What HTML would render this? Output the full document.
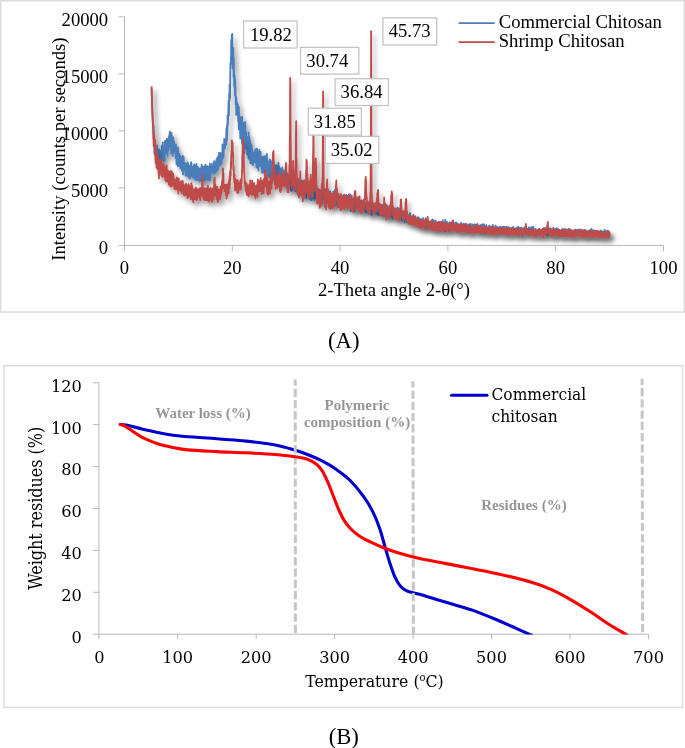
<!DOCTYPE html>
<html lang="en">
<head>
<meta charset="utf-8">
<title>XRD and TGA of chitosan</title>
<style>
html,body{margin:0;padding:0;background:#fff;}
body{width:685px;height:748px;overflow:hidden;}
svg{display:block;}
.t{font-family:"Liberation Serif",serif;fill:#000;}
.c{font-family:"DejaVu Serif Condensed","DejaVu Serif",serif;font-stretch:condensed;fill:#000;}
.g{font-family:"Liberation Serif",serif;font-weight:bold;fill:#969696;}
</style>
</head>
<body>
<svg width="685" height="748" viewBox="0 0 685 748">
<defs>
<filter id="sh" x="-5%" y="-10%" width="110%" height="125%">
<feGaussianBlur in="SourceAlpha" stdDeviation="2.4"/>
<feOffset dx="3.4" dy="3.8" result="b"/>
<feComponentTransfer><feFuncA type="linear" slope="0.38"/></feComponentTransfer>
<feMerge><feMergeNode/><feMergeNode in="SourceGraphic"/></feMerge>
</filter>
<clipPath id="cp"><rect x="99" y="370" width="560" height="264.6"/></clipPath>
</defs>
<rect width="685" height="748" fill="#fff"/>

<!-- ===== chart A frame ===== -->
<rect x="0.75" y="0.75" width="683.5" height="311.3" fill="#fff" stroke="#dcdcdc" stroke-width="1.5"/>

<!-- axes A -->
<g stroke="#b0b0b0" stroke-width="0.9" fill="none">
<path d="M124.5 16.8V251.3M118.6 245.4H663.5"/>
<path d="M118.6 16.8H124.5M118.6 73.8H124.5M118.6 130.8H124.5M118.6 187.8H124.5"/>
<path d="M232.3 245.4V251.3M340.1 245.4V251.3M447.9 245.4V251.3M555.7 245.4V251.3M663.5 245.4V251.3"/>
</g>

<!-- y tick labels A -->
<g class="t" font-size="18.67" text-anchor="end">
<text x="108.2" y="25.6">20000</text>
<text x="108.2" y="82.8">15000</text>
<text x="108.2" y="139.8">10000</text>
<text x="108.2" y="196.9">5000</text>
<text x="108.2" y="254.3">0</text>
</g>
<!-- x tick labels A -->
<g class="t" font-size="18.67" text-anchor="middle">
<text x="124.5" y="273.8">0</text>
<text x="232.3" y="273.8">20</text>
<text x="340.1" y="273.8">40</text>
<text x="447.9" y="273.8">60</text>
<text x="555.7" y="273.8">80</text>
<text x="663.5" y="273.8">100</text>
</g>
<text class="t" font-size="18.67" text-anchor="middle" x="394" y="296">2-Theta angle 2-θ(°)</text>
<text class="t" font-size="18.67" text-anchor="middle" transform="translate(65.4 149.1) rotate(-90)">Intensity (counts per seconds)</text>

<!-- data A -->
<polyline fill="none" stroke="#4a7ebb" stroke-width="1.8" stroke-linejoin="round" filter="url(#sh)" points="151.4,89.2 151.6,88.8 151.7,92.8 151.9,100.2 152.0,103.8 152.1,103.7 152.3,111.2 152.4,111.8 152.5,112.8 152.7,118.3 152.8,121.8 152.9,123.7 153.1,126.8 153.2,128.6 153.3,124.9 153.5,133.8 153.6,125.7 153.7,129.1 153.9,138.3 154.0,131.5 154.1,145.3 154.3,143.2 154.4,144.1 154.5,153.0 154.7,152.6 154.8,146.7 155.0,151.2 155.1,141.2 155.2,147.5 155.4,149.5 155.5,149.1 155.6,154.2 155.8,160.0 155.9,157.9 156.0,153.3 156.2,159.8 156.3,156.7 156.4,164.2 156.6,150.2 156.7,163.1 156.8,156.5 157.0,145.4 157.1,156.5 157.2,149.5 157.4,154.1 157.5,149.4 157.6,161.5 157.8,155.0 157.9,156.1 158.1,149.5 158.2,160.0 158.3,152.7 158.5,164.2 158.6,156.3 158.7,158.1 158.9,158.8 159.0,150.4 159.1,155.2 159.3,149.6 159.4,152.6 159.5,154.0 159.7,152.6 159.8,152.1 159.9,158.7 160.1,160.2 160.2,158.4 160.3,159.5 160.5,158.8 160.6,151.3 160.7,161.3 160.9,155.2 161.0,154.2 161.2,151.0 161.3,151.3 161.4,161.1 161.6,152.1 161.7,147.3 161.8,145.7 162.0,152.8 162.1,157.1 162.2,158.9 162.4,146.1 162.5,152.8 162.6,157.2 162.8,142.3 162.9,149.3 163.0,150.7 163.2,155.3 163.3,154.9 163.4,152.8 163.6,161.4 163.7,147.1 163.8,151.8 164.0,151.1 164.1,149.5 164.3,151.5 164.4,157.4 164.5,150.8 164.7,160.1 164.8,157.4 164.9,141.0 165.1,143.4 165.2,152.4 165.3,152.0 165.5,140.6 165.6,147.9 165.7,147.6 165.9,149.8 166.0,147.2 166.1,147.7 166.3,140.5 166.4,140.4 166.5,153.5 166.7,140.3 166.8,151.5 166.9,138.7 167.1,145.3 167.2,153.8 167.4,142.8 167.5,140.6 167.6,156.1 167.8,142.5 167.9,139.7 168.0,144.2 168.2,141.2 168.3,149.2 168.4,149.8 168.6,145.1 168.7,150.6 168.8,146.5 169.0,135.8 169.1,138.8 169.2,144.7 169.4,146.8 169.5,133.6 169.6,142.5 169.8,131.7 169.9,140.8 170.0,137.8 170.2,132.2 170.3,137.9 170.4,141.5 170.6,141.2 170.7,134.2 170.9,143.6 171.0,138.0 171.1,153.5 171.3,142.5 171.4,140.2 171.5,132.9 171.7,149.6 171.8,135.2 171.9,141.0 172.1,138.5 172.2,140.1 172.3,137.2 172.5,147.8 172.6,150.2 172.7,151.2 172.9,155.9 173.0,148.4 173.1,137.6 173.3,137.2 173.4,151.0 173.5,145.1 173.7,145.4 173.8,145.4 174.0,142.4 174.1,149.3 174.2,141.5 174.4,148.0 174.5,145.6 174.6,146.6 174.8,151.9 174.9,152.5 175.0,151.6 175.2,146.1 175.3,149.7 175.4,146.9 175.6,158.1 175.7,149.0 175.8,146.0 176.0,144.4 176.1,153.3 176.2,146.5 176.4,162.2 176.5,159.1 176.6,164.4 176.8,158.4 176.9,154.0 177.1,159.3 177.2,152.6 177.3,162.7 177.5,156.3 177.6,161.0 177.7,152.3 177.9,166.0 178.0,158.9 178.1,147.3 178.3,154.3 178.4,155.7 178.5,157.2 178.7,159.5 178.8,161.0 178.9,156.1 179.1,164.6 179.2,156.1 179.3,154.5 179.5,153.9 179.6,166.6 179.7,164.3 179.9,162.8 180.0,165.2 180.2,158.3 180.3,158.4 180.4,168.2 180.6,156.2 180.7,156.6 180.8,167.9 181.0,158.6 181.1,157.5 181.2,165.5 181.4,161.4 181.5,160.2 181.6,163.0 181.8,170.4 181.9,160.4 182.0,163.3 182.2,161.0 182.3,159.7 182.4,164.1 182.6,160.2 182.7,155.7 182.8,158.6 183.0,170.2 183.1,174.5 183.3,163.6 183.4,166.4 183.5,163.5 183.7,157.1 183.8,165.8 183.9,169.3 184.1,166.7 184.2,163.2 184.3,170.6 184.5,167.0 184.6,170.8 184.7,163.6 184.9,163.0 185.0,169.0 185.1,170.5 185.3,164.3 185.4,175.3 185.5,171.3 185.7,165.1 185.8,168.6 185.9,175.9 186.1,163.8 186.2,164.0 186.4,171.1 186.5,173.0 186.6,163.9 186.8,174.3 186.9,167.6 187.0,173.6 187.2,175.6 187.3,163.4 187.4,171.3 187.6,170.8 187.7,162.4 187.8,166.9 188.0,176.3 188.1,169.0 188.2,164.1 188.4,171.7 188.5,169.1 188.6,176.5 188.8,167.6 188.9,165.7 189.0,167.7 189.2,167.2 189.3,171.6 189.4,178.5 189.6,171.0 189.7,168.0 189.9,173.1 190.0,178.5 190.1,170.5 190.3,170.0 190.4,165.6 190.5,174.5 190.7,176.5 190.8,166.2 190.9,170.4 191.1,164.1 191.2,162.1 191.3,162.6 191.5,168.7 191.6,169.3 191.7,170.8 191.9,169.7 192.0,176.5 192.1,167.1 192.3,170.2 192.4,166.9 192.5,172.4 192.7,172.6 192.8,174.2 193.0,177.6 193.1,168.2 193.2,169.5 193.4,171.5 193.5,169.6 193.6,167.9 193.8,172.6 193.9,172.4 194.0,164.5 194.2,174.3 194.3,177.3 194.4,169.1 194.6,167.8 194.7,178.4 194.8,168.1 195.0,165.1 195.1,167.6 195.2,179.6 195.4,175.7 195.5,167.2 195.6,174.3 195.8,177.2 195.9,173.3 196.1,171.7 196.2,166.1 196.3,180.0 196.5,164.0 196.6,177.5 196.7,166.3 196.9,179.9 197.0,176.3 197.1,178.8 197.3,174.0 197.4,171.9 197.5,166.8 197.7,172.5 197.8,180.0 197.9,167.1 198.1,168.3 198.2,168.9 198.3,177.5 198.5,179.6 198.6,177.0 198.7,178.8 198.9,175.4 199.0,172.0 199.2,179.8 199.3,177.1 199.4,170.6 199.6,174.9 199.7,181.5 199.8,168.5 200.0,175.8 200.1,175.4 200.2,176.8 200.4,171.7 200.5,170.9 200.6,172.4 200.8,176.7 200.9,170.7 201.0,168.2 201.2,176.6 201.3,180.4 201.4,181.3 201.6,164.7 201.7,169.1 201.8,175.5 202.0,166.5 202.1,176.2 202.3,170.4 202.4,172.4 202.5,166.3 202.7,181.9 202.8,177.6 202.9,171.0 203.1,177.0 203.2,174.8 203.3,169.8 203.5,167.5 203.6,169.4 203.7,166.9 203.9,169.7 204.0,170.6 204.1,170.4 204.3,169.0 204.4,172.0 204.5,175.3 204.7,180.7 204.8,167.6 204.9,180.0 205.1,165.7 205.2,174.8 205.4,176.5 205.5,164.7 205.6,179.6 205.8,172.8 205.9,179.8 206.0,170.6 206.2,171.3 206.3,167.8 206.4,178.1 206.6,167.5 206.7,171.4 206.8,172.6 207.0,166.3 207.1,175.0 207.2,169.6 207.4,172.8 207.5,166.4 207.6,173.1 207.8,173.8 207.9,179.9 208.0,170.6 208.2,169.4 208.3,177.9 208.4,166.9 208.6,179.9 208.7,167.5 208.9,177.7 209.0,173.0 209.1,170.5 209.3,171.0 209.4,168.1 209.5,180.4 209.7,167.5 209.8,168.7 209.9,163.6 210.1,180.3 210.2,172.8 210.3,170.3 210.5,171.2 210.6,179.3 210.7,168.8 210.9,174.5 211.0,174.5 211.1,166.1 211.3,172.5 211.4,170.7 211.5,171.8 211.7,168.4 211.8,169.4 212.0,163.7 212.1,171.0 212.2,168.5 212.4,166.3 212.5,165.7 212.6,168.3 212.8,171.9 212.9,169.8 213.0,169.6 213.2,166.5 213.3,173.9 213.4,168.1 213.6,166.3 213.7,167.9 213.8,170.2 214.0,161.2 214.1,168.0 214.2,164.1 214.4,164.1 214.5,171.1 214.6,161.3 214.8,173.7 214.9,166.4 215.1,162.6 215.2,170.0 215.3,163.2 215.5,164.3 215.6,163.8 215.7,165.3 215.9,166.4 216.0,170.0 216.1,172.4 216.3,167.0 216.4,167.9 216.5,159.1 216.7,164.4 216.8,164.4 216.9,167.8 217.1,167.5 217.2,157.8 217.3,157.8 217.5,166.6 217.6,170.4 217.7,159.9 217.9,166.6 218.0,160.6 218.2,168.6 218.3,155.9 218.4,167.6 218.6,162.7 218.7,166.4 218.8,164.9 219.0,157.7 219.1,153.0 219.2,162.0 219.4,155.9 219.5,163.1 219.6,163.2 219.8,163.8 219.9,165.6 220.0,161.1 220.2,152.9 220.3,153.5 220.4,165.3 220.6,155.8 220.7,155.4 220.8,160.1 221.0,164.2 221.1,156.9 221.3,159.9 221.4,157.2 221.5,162.7 221.7,156.6 221.8,163.6 221.9,159.1 222.1,152.7 222.2,153.4 222.3,158.9 222.5,144.3 222.6,154.5 222.7,157.5 222.9,154.0 223.0,158.6 223.1,153.2 223.3,146.1 223.4,150.6 223.5,157.2 223.7,156.3 223.8,151.2 223.9,145.4 224.1,149.0 224.2,138.9 224.3,141.8 224.5,143.3 224.6,139.1 224.8,142.5 224.9,148.5 225.0,148.0 225.2,145.6 225.3,144.5 225.4,144.9 225.6,143.1 225.7,140.6 225.8,145.2 226.0,141.1 226.1,143.4 226.2,137.8 226.4,128.4 226.5,144.0 226.6,140.4 226.8,138.1 226.9,126.5 227.0,140.6 227.2,124.4 227.3,134.7 227.4,129.4 227.6,115.5 227.7,126.0 227.9,117.0 228.0,124.2 228.1,117.2 228.3,111.2 228.4,113.1 228.5,103.2 228.7,100.8 228.8,106.8 228.9,115.6 229.1,103.1 229.2,96.1 229.3,93.5 229.5,100.7 229.6,86.0 229.7,84.3 229.9,93.2 230.0,92.3 230.1,98.0 230.3,70.6 230.4,69.9 230.5,62.7 230.7,64.0 230.8,64.7 231.0,56.1 231.1,60.0 231.2,40.0 231.4,44.9 231.5,53.7 231.6,45.4 231.8,58.0 231.9,36.1 232.0,34.3 232.2,51.0 232.3,33.8 232.4,45.6 232.6,56.8 232.7,68.5 232.8,56.3 233.0,63.6 233.1,62.0 233.2,63.6 233.4,48.2 233.5,77.0 233.6,57.0 233.8,57.8 233.9,64.2 234.1,76.3 234.2,86.2 234.3,73.7 234.5,86.3 234.6,87.6 234.7,75.9 234.9,79.8 235.0,95.4 235.1,93.7 235.3,79.8 235.4,93.3 235.5,86.7 235.7,105.1 235.8,96.8 235.9,105.2 236.1,96.7 236.2,114.9 236.3,107.0 236.5,98.4 236.6,111.6 236.7,114.4 236.9,101.7 237.0,104.5 237.2,109.5 237.3,106.8 237.4,112.3 237.6,104.7 237.7,112.6 237.8,103.9 238.0,111.4 238.1,113.8 238.2,121.5 238.4,109.3 238.5,114.9 238.6,118.1 238.8,129.4 238.9,107.0 239.0,112.7 239.2,126.5 239.3,118.3 239.4,128.5 239.6,115.7 239.7,117.9 239.8,126.4 240.0,126.0 240.1,130.1 240.3,138.5 240.4,137.1 240.5,130.2 240.7,131.5 240.8,133.5 240.9,128.2 241.1,131.7 241.2,125.6 241.3,117.3 241.5,137.2 241.6,127.1 241.7,127.2 241.9,137.6 242.0,143.5 242.1,116.8 242.3,133.5 242.4,127.1 242.5,143.6 242.7,134.6 242.8,123.0 242.9,122.3 243.1,146.5 243.2,131.0 243.3,138.0 243.5,127.1 243.6,149.9 243.8,140.3 243.9,129.5 244.0,137.2 244.2,136.7 244.3,122.8 244.4,145.8 244.6,153.0 244.7,140.1 244.8,143.9 245.0,146.4 245.1,132.6 245.2,121.8 245.4,134.3 245.5,134.6 245.6,146.3 245.8,140.2 245.9,134.5 246.0,136.5 246.2,131.8 246.3,139.0 246.4,148.6 246.6,137.0 246.7,141.0 246.9,148.9 247.0,138.3 247.1,136.6 247.3,154.8 247.4,140.7 247.5,136.9 247.7,147.0 247.8,151.1 247.9,140.9 248.1,146.5 248.2,141.9 248.3,143.8 248.5,158.6 248.6,139.2 248.7,132.3 248.9,153.6 249.0,151.5 249.1,153.6 249.3,140.5 249.4,137.2 249.5,159.4 249.7,154.2 249.8,156.1 250.0,148.3 250.1,140.6 250.2,157.9 250.4,163.3 250.5,148.4 250.6,144.9 250.8,143.3 250.9,154.2 251.0,161.8 251.2,154.8 251.3,145.8 251.4,146.3 251.6,162.2 251.7,145.1 251.8,154.0 252.0,153.6 252.1,162.7 252.2,148.9 252.4,164.4 252.5,157.0 252.6,152.3 252.8,152.4 252.9,165.1 253.1,159.5 253.2,154.7 253.3,162.5 253.5,159.8 253.6,162.8 253.7,159.6 253.9,157.7 254.0,154.1 254.1,158.9 254.3,159.2 254.4,158.3 254.5,151.7 254.7,158.0 254.8,162.1 254.9,155.7 255.1,160.1 255.2,152.6 255.3,149.3 255.5,162.0 255.6,150.4 255.7,159.2 255.9,162.9 256.0,160.5 256.2,155.7 256.3,149.8 256.4,167.2 256.6,154.8 256.7,158.1 256.8,164.9 257.0,148.3 257.1,153.8 257.2,167.5 257.4,152.9 257.5,168.1 257.6,165.4 257.8,164.7 257.9,151.3 258.0,167.1 258.2,151.7 258.3,159.1 258.4,170.6 258.6,156.1 258.7,161.9 258.8,157.2 259.0,156.5 259.1,157.0 259.3,149.7 259.4,166.1 259.5,153.7 259.7,166.0 259.8,155.5 259.9,156.1 260.1,154.5 260.2,165.6 260.3,162.1 260.5,151.9 260.6,159.0 260.7,164.2 260.9,157.0 261.0,161.6 261.1,165.4 261.3,157.8 261.4,164.0 261.5,162.3 261.7,162.7 261.8,164.9 261.9,168.6 262.1,172.8 262.2,158.8 262.3,160.7 262.5,161.9 262.6,156.7 262.8,171.9 262.9,171.4 263.0,169.9 263.2,167.8 263.3,159.9 263.4,166.1 263.6,166.9 263.7,160.7 263.8,170.0 264.0,172.8 264.1,163.8 264.2,156.4 264.4,172.3 264.5,162.9 264.6,168.9 264.8,165.3 264.9,165.3 265.0,168.7 265.2,165.6 265.3,161.1 265.4,165.6 265.6,169.0 265.7,161.7 265.9,169.6 266.0,155.7 266.1,170.7 266.3,172.2 266.4,169.5 266.5,154.9 266.7,167.7 266.8,163.9 266.9,153.9 267.1,161.3 267.2,171.3 267.3,167.0 267.5,164.7 267.6,163.1 267.7,165.9 267.9,170.9 268.0,175.0 268.1,176.7 268.3,165.0 268.4,174.0 268.5,170.5 268.7,171.5 268.8,174.1 269.0,172.0 269.1,161.0 269.2,166.9 269.4,170.6 269.5,164.8 269.6,177.7 269.8,169.3 269.9,160.3 270.0,159.7 270.2,169.4 270.3,176.9 270.4,174.6 270.6,176.5 270.7,170.0 270.8,173.9 271.0,173.6 271.1,165.8 271.2,172.6 271.4,173.8 271.5,161.5 271.6,170.5 271.8,175.0 271.9,175.3 272.1,161.5 272.2,166.7 272.3,168.2 272.5,168.1 272.6,175.6 272.7,170.2 272.9,168.1 273.0,164.2 273.1,170.2 273.3,168.1 273.4,172.6 273.5,179.8 273.7,162.0 273.8,174.3 273.9,178.5 274.1,165.0 274.2,164.0 274.3,166.9 274.5,168.9 274.6,177.5 274.7,178.9 274.9,167.4 275.0,165.0 275.2,172.1 275.3,167.2 275.4,173.7 275.6,174.8 275.7,169.8 275.8,178.2 276.0,169.6 276.1,176.2 276.2,169.9 276.4,171.5 276.5,165.3 276.6,166.8 276.8,173.0 276.9,170.7 277.0,165.7 277.2,171.0 277.3,174.5 277.4,179.1 277.6,165.8 277.7,172.3 277.8,177.2 278.0,170.5 278.1,171.9 278.2,172.6 278.4,162.9 278.5,163.8 278.7,180.1 278.8,177.2 278.9,173.3 279.1,166.1 279.2,171.0 279.3,170.4 279.5,172.3 279.6,180.2 279.7,168.2 279.9,181.0 280.0,169.3 280.1,179.4 280.3,174.4 280.4,168.3 280.5,174.8 280.7,178.5 280.8,175.5 280.9,170.6 281.1,182.2 281.2,177.3 281.3,184.0 281.5,174.5 281.6,176.9 281.8,173.3 281.9,177.1 282.0,172.7 282.2,177.9 282.3,168.8 282.4,167.5 282.6,173.8 282.7,175.9 282.8,170.8 283.0,177.9 283.1,172.1 283.2,178.0 283.4,170.7 283.5,176.8 283.6,175.4 283.8,172.6 283.9,182.7 284.0,172.4 284.2,174.0 284.3,179.1 284.4,179.3 284.6,181.7 284.7,181.4 284.9,175.8 285.0,179.9 285.1,172.5 285.3,170.1 285.4,170.6 285.5,174.2 285.7,172.8 285.8,182.5 285.9,171.4 286.1,183.4 286.2,173.4 286.3,173.8 286.5,176.5 286.6,176.1 286.7,182.5 286.9,181.8 287.0,183.9 287.1,187.4 287.3,186.0 287.4,174.6 287.5,173.3 287.7,185.9 287.8,186.2 288.0,184.7 288.1,187.8 288.2,187.1 288.4,180.9 288.5,179.2 288.6,184.1 288.8,182.7 288.9,176.5 289.0,184.3 289.2,182.7 289.3,182.9 289.4,176.1 289.6,183.9 289.7,178.8 289.8,182.7 290.0,174.6 290.1,182.9 290.2,181.5 290.4,177.3 290.5,179.5 290.6,189.9 290.8,186.8 290.9,175.8 291.1,190.6 291.2,181.9 291.3,178.6 291.5,191.1 291.6,187.3 291.7,190.5 291.9,190.3 292.0,186.6 292.1,184.1 292.3,186.4 292.4,188.5 292.5,177.9 292.7,178.6 292.8,181.3 292.9,188.0 293.1,184.6 293.2,180.8 293.3,186.3 293.5,180.8 293.6,183.5 293.7,183.3 293.9,189.5 294.0,182.8 294.2,180.0 294.3,184.3 294.4,188.5 294.6,180.8 294.7,182.2 294.8,187.5 295.0,184.3 295.1,181.0 295.2,191.2 295.4,183.9 295.5,184.9 295.6,185.5 295.8,180.1 295.9,185.9 296.0,189.7 296.2,189.5 296.3,179.9 296.4,188.1 296.6,181.8 296.7,189.7 296.8,179.9 297.0,181.8 297.1,192.4 297.2,179.6 297.4,184.2 297.5,193.3 297.7,186.6 297.8,194.7 297.9,188.7 298.1,190.2 298.2,188.9 298.3,192.4 298.5,187.4 298.6,183.2 298.7,179.2 298.9,187.9 299.0,185.3 299.1,196.9 299.3,189.5 299.4,181.0 299.5,192.0 299.7,182.4 299.8,186.4 299.9,187.7 300.1,182.0 300.2,191.0 300.3,184.7 300.5,190.2 300.6,194.1 300.8,183.2 300.9,185.9 301.0,194.5 301.2,187.9 301.3,191.7 301.4,187.2 301.6,185.1 301.7,181.0 301.8,193.5 302.0,187.7 302.1,181.0 302.2,190.0 302.4,186.2 302.5,190.5 302.6,185.8 302.8,189.0 302.9,184.3 303.0,187.4 303.2,188.2 303.3,193.3 303.4,188.1 303.6,194.3 303.7,193.2 303.9,193.5 304.0,190.3 304.1,187.9 304.3,180.5 304.4,194.8 304.5,192.6 304.7,194.2 304.8,186.1 304.9,191.4 305.1,188.8 305.2,187.3 305.3,188.3 305.5,193.1 305.6,196.5 305.7,193.4 305.9,184.8 306.0,191.5 306.1,198.1 306.3,191.9 306.4,193.3 306.5,189.3 306.7,188.1 306.8,184.8 307.0,192.6 307.1,192.0 307.2,188.2 307.4,189.2 307.5,187.9 307.6,193.0 307.8,189.3 307.9,191.4 308.0,186.1 308.2,193.1 308.3,194.2 308.4,191.1 308.6,194.1 308.7,184.1 308.8,188.8 309.0,189.2 309.1,196.6 309.2,190.5 309.4,198.9 309.5,184.9 309.6,185.7 309.8,195.5 309.9,197.0 310.1,186.8 310.2,195.1 310.3,197.3 310.5,189.6 310.6,191.8 310.7,193.5 310.9,187.6 311.0,188.1 311.1,190.0 311.3,200.2 311.4,191.2 311.5,193.2 311.7,182.8 311.8,197.1 311.9,192.2 312.1,190.5 312.2,191.6 312.3,196.3 312.5,192.4 312.6,198.6 312.7,186.2 312.9,196.5 313.0,197.6 313.2,198.0 313.3,189.9 313.4,194.1 313.6,188.1 313.7,185.7 313.8,188.3 314.0,197.2 314.1,200.2 314.2,198.8 314.4,189.1 314.5,188.7 314.6,198.5 314.8,192.4 314.9,188.0 315.0,191.1 315.2,191.5 315.3,188.5 315.4,188.5 315.6,196.8 315.7,197.3 315.8,188.2 316.0,199.0 316.1,194.2 316.2,190.5 316.4,196.4 316.5,192.9 316.7,188.7 316.8,196.5 316.9,189.1 317.1,189.7 317.2,194.7 317.3,193.7 317.5,199.2 317.6,192.0 317.7,196.3 317.9,199.5 318.0,188.8 318.1,193.1 318.3,188.9 318.4,191.7 318.5,199.4 318.7,202.5 318.8,195.7 318.9,201.3 319.1,194.8 319.2,191.5 319.3,194.2 319.5,190.9 319.6,202.1 319.8,198.9 319.9,189.9 320.0,201.5 320.2,193.8 320.3,199.6 320.4,190.4 320.6,196.2 320.7,196.2 320.8,194.3 321.0,194.2 321.1,192.7 321.2,193.6 321.4,197.8 321.5,201.3 321.6,191.9 321.8,193.6 321.9,203.1 322.0,195.2 322.2,197.4 322.3,197.0 322.4,196.3 322.6,196.1 322.7,188.6 322.9,194.2 323.0,196.8 323.1,196.5 323.3,194.5 323.4,196.4 323.5,196.7 323.7,194.2 323.8,199.0 323.9,199.4 324.1,199.2 324.2,196.2 324.3,199.0 324.5,192.2 324.6,192.9 324.7,197.1 324.9,193.5 325.0,191.6 325.1,195.2 325.3,198.1 325.4,197.5 325.5,192.1 325.7,191.7 325.8,203.3 326.0,189.0 326.1,193.8 326.2,195.0 326.4,193.9 326.5,193.9 326.6,200.9 326.8,194.6 326.9,200.3 327.0,198.4 327.2,195.3 327.3,202.0 327.4,202.0 327.6,193.6 327.7,192.3 327.8,195.8 328.0,201.2 328.1,197.3 328.2,202.4 328.4,192.9 328.5,195.0 328.6,196.8 328.8,196.5 328.9,202.3 329.1,193.2 329.2,198.4 329.3,193.4 329.5,198.1 329.6,202.7 329.7,196.5 329.9,197.7 330.0,192.7 330.1,191.4 330.3,196.6 330.4,193.4 330.5,200.3 330.7,197.0 330.8,197.6 330.9,202.4 331.1,199.2 331.2,197.0 331.3,197.4 331.5,194.0 331.6,194.2 331.7,200.2 331.9,196.8 332.0,201.8 332.1,198.9 332.3,197.9 332.4,196.5 332.6,203.2 332.7,197.8 332.8,202.3 333.0,199.0 333.1,205.5 333.2,196.5 333.4,191.6 333.5,198.1 333.6,203.7 333.8,197.6 333.9,200.7 334.0,191.3 334.2,205.2 334.3,200.8 334.4,198.3 334.6,201.2 334.7,202.0 334.8,200.3 335.0,196.7 335.1,189.6 335.2,199.7 335.4,195.7 335.5,203.5 335.7,196.4 335.8,198.7 335.9,203.0 336.1,195.0 336.2,198.2 336.3,204.4 336.5,203.4 336.6,197.4 336.7,194.5 336.9,199.4 337.0,194.2 337.1,192.5 337.3,196.9 337.4,199.3 337.5,201.4 337.7,203.9 337.8,200.9 337.9,193.5 338.1,200.8 338.2,199.3 338.3,205.4 338.5,199.2 338.6,201.0 338.8,195.4 338.9,203.9 339.0,199.0 339.2,199.9 339.3,201.9 339.4,202.1 339.6,200.3 339.7,198.8 339.8,205.1 340.0,205.5 340.1,199.6 340.2,204.8 340.4,196.9 340.5,199.7 340.6,197.0 340.8,195.7 340.9,197.2 341.0,205.5 341.2,197.8 341.3,196.6 341.4,198.1 341.6,199.0 341.7,195.9 341.9,202.5 342.0,196.9 342.1,199.2 342.3,203.3 342.4,202.7 342.5,204.6 342.7,202.8 342.8,203.6 342.9,200.2 343.1,199.2 343.2,197.3 343.3,198.4 343.5,195.6 343.6,203.3 343.7,200.2 343.9,203.8 344.0,202.8 344.1,196.3 344.3,206.1 344.4,195.5 344.5,195.7 344.7,202.5 344.8,198.4 345.0,203.0 345.1,203.0 345.2,201.0 345.4,201.5 345.5,206.3 345.6,202.2 345.8,195.4 345.9,204.4 346.0,204.8 346.2,197.4 346.3,205.6 346.4,195.0 346.6,200.0 346.7,198.2 346.8,203.2 347.0,203.0 347.1,205.7 347.2,204.5 347.4,202.8 347.5,201.5 347.6,197.2 347.8,202.9 347.9,195.7 348.1,198.7 348.2,203.1 348.3,204.5 348.5,206.3 348.6,205.9 348.7,199.2 348.9,204.5 349.0,202.8 349.1,204.8 349.3,202.0 349.4,200.9 349.5,206.2 349.7,199.1 349.8,204.8 349.9,199.2 350.1,204.1 350.2,203.1 350.3,202.2 350.5,200.7 350.6,194.8 350.7,200.1 350.9,211.1 351.0,203.5 351.1,205.5 351.3,206.8 351.4,206.3 351.6,207.0 351.7,196.0 351.8,201.4 352.0,198.3 352.1,201.5 352.2,207.0 352.4,202.5 352.5,207.6 352.6,206.9 352.8,203.7 352.9,201.0 353.0,207.1 353.2,206.1 353.3,204.4 353.4,198.6 353.6,202.4 353.7,201.5 353.8,209.6 354.0,208.3 354.1,205.0 354.2,205.4 354.4,201.1 354.5,199.5 354.7,201.0 354.8,211.5 354.9,206.7 355.1,201.1 355.2,200.7 355.3,202.9 355.5,206.7 355.6,206.9 355.7,200.3 355.9,199.3 356.0,204.3 356.1,207.6 356.3,208.4 356.4,207.2 356.5,199.0 356.7,199.8 356.8,199.5 356.9,208.8 357.1,206.1 357.2,206.3 357.3,204.9 357.5,209.3 357.6,204.9 357.8,204.1 357.9,201.2 358.0,203.6 358.2,208.8 358.3,197.9 358.4,202.9 358.6,202.0 358.7,206.0 358.8,207.5 359.0,208.1 359.1,210.3 359.2,208.3 359.4,209.2 359.5,204.7 359.6,206.1 359.8,205.1 359.9,201.2 360.0,211.6 360.2,209.9 360.3,201.0 360.4,205.7 360.6,202.2 360.7,208.4 360.9,206.0 361.0,207.0 361.1,200.8 361.3,202.3 361.4,208.0 361.5,210.2 361.7,200.5 361.8,206.9 361.9,204.6 362.1,201.5 362.2,201.6 362.3,201.1 362.5,210.4 362.6,203.7 362.7,207.6 362.9,208.9 363.0,206.1 363.1,206.7 363.3,202.6 363.4,202.9 363.5,210.1 363.7,207.5 363.8,208.4 364.0,206.4 364.1,199.5 364.2,201.4 364.4,204.4 364.5,203.6 364.6,205.3 364.8,209.2 364.9,206.6 365.0,211.3 365.2,203.6 365.3,207.9 365.4,210.6 365.6,208.6 365.7,208.3 365.8,204.2 366.0,212.6 366.1,210.4 366.2,202.8 366.4,204.6 366.5,207.4 366.6,204.7 366.8,210.4 366.9,203.3 367.1,204.7 367.2,207.1 367.3,210.8 367.5,210.2 367.6,209.7 367.7,207.9 367.9,212.9 368.0,207.0 368.1,210.6 368.3,211.1 368.4,207.4 368.5,209.5 368.7,209.8 368.8,205.9 368.9,209.1 369.1,210.7 369.2,207.6 369.3,208.2 369.5,209.1 369.6,204.9 369.7,204.1 369.9,205.4 370.0,202.6 370.1,207.0 370.3,208.5 370.4,214.7 370.6,203.9 370.7,210.7 370.8,211.5 371.0,213.1 371.1,210.7 371.2,211.3 371.4,206.7 371.5,203.3 371.6,205.7 371.8,215.3 371.9,205.8 372.0,205.4 372.2,213.5 372.3,209.5 372.4,211.2 372.6,207.4 372.7,211.9 372.8,209.2 373.0,209.5 373.1,207.8 373.2,206.7 373.4,205.5 373.5,211.2 373.7,205.8 373.8,205.6 373.9,206.9 374.1,212.1 374.2,204.6 374.3,207.3 374.5,212.5 374.6,209.5 374.7,208.3 374.9,209.9 375.0,212.2 375.1,212.2 375.3,209.5 375.4,207.2 375.5,209.2 375.7,211.9 375.8,209.2 375.9,214.4 376.1,214.1 376.2,203.1 376.3,211.8 376.5,207.5 376.6,210.0 376.8,213.4 376.9,205.7 377.0,205.7 377.2,213.0 377.3,210.3 377.4,210.1 377.6,212.4 377.7,208.4 377.8,206.7 378.0,206.5 378.1,210.0 378.2,215.6 378.4,213.5 378.5,209.9 378.6,208.1 378.8,211.3 378.9,211.5 379.0,205.6 379.2,214.3 379.3,214.4 379.4,212.1 379.6,206.5 379.7,210.6 379.9,215.2 380.0,211.4 380.1,208.5 380.3,213.9 380.4,206.9 380.5,211.2 380.7,207.9 380.8,212.6 380.9,205.0 381.1,214.6 381.2,205.9 381.3,206.1 381.5,211.6 381.6,215.6 381.7,208.6 381.9,210.0 382.0,211.4 382.1,204.8 382.3,210.2 382.4,211.0 382.5,210.5 382.7,210.0 382.8,210.2 383.0,213.4 383.1,211.2 383.2,211.2 383.4,214.9 383.5,208.7 383.6,215.9 383.8,213.7 383.9,208.8 384.0,212.0 384.2,214.9 384.3,212.7 384.4,209.7 384.6,210.0 384.7,206.6 384.8,207.3 385.0,214.2 385.1,210.7 385.2,211.6 385.4,213.1 385.5,208.1 385.6,216.6 385.8,215.0 385.9,209.5 386.0,210.5 386.2,213.5 386.3,204.9 386.5,210.7 386.6,211.5 386.7,216.4 386.9,205.6 387.0,215.9 387.1,211.0 387.3,205.9 387.4,208.1 387.5,208.2 387.7,208.5 387.8,215.5 387.9,217.7 388.1,212.9 388.2,215.1 388.3,208.0 388.5,217.0 388.6,214.3 388.7,216.7 388.9,214.9 389.0,215.1 389.1,217.1 389.3,207.6 389.4,212.1 389.6,212.7 389.7,207.4 389.8,210.5 390.0,213.8 390.1,210.4 390.2,207.6 390.4,211.2 390.5,213.6 390.6,206.9 390.8,207.7 390.9,212.4 391.0,215.8 391.2,210.6 391.3,210.8 391.4,214.7 391.6,213.9 391.7,213.0 391.8,208.7 392.0,213.9 392.1,216.9 392.2,217.2 392.4,214.1 392.5,208.7 392.7,215.6 392.8,216.1 392.9,206.9 393.1,219.2 393.2,217.8 393.3,211.3 393.5,218.1 393.6,208.5 393.7,211.2 393.9,216.4 394.0,213.7 394.1,210.2 394.3,210.9 394.4,212.9 394.5,215.9 394.7,215.2 394.8,216.8 394.9,216.0 395.1,209.0 395.2,212.0 395.3,216.5 395.5,213.4 395.6,215.8 395.8,216.9 395.9,216.5 396.0,211.3 396.2,215.4 396.3,212.6 396.4,211.5 396.6,216.7 396.7,211.2 396.8,218.1 397.0,212.9 397.1,210.4 397.2,210.1 397.4,209.1 397.5,212.7 397.6,207.6 397.8,214.5 397.9,214.8 398.0,217.4 398.2,217.1 398.3,216.2 398.4,212.2 398.6,212.1 398.7,220.2 398.9,211.0 399.0,219.2 399.1,217.6 399.3,214.3 399.4,208.7 399.5,211.1 399.7,215.2 399.8,215.2 399.9,211.0 400.1,215.1 400.2,211.3 400.3,211.7 400.5,216.8 400.6,211.3 400.7,217.3 400.9,214.7 401.0,215.7 401.1,216.8 401.3,214.2 401.4,216.5 401.5,213.5 401.7,217.7 401.8,211.9 402.0,212.3 402.1,220.4 402.2,210.9 402.4,216.3 402.5,220.9 402.6,213.0 402.8,219.4 402.9,214.3 403.0,212.1 403.2,215.8 403.3,219.7 403.4,213.1 403.6,214.0 403.7,212.8 403.8,219.8 404.0,214.5 404.1,213.6 404.2,216.7 404.4,215.9 404.5,218.0 404.6,222.4 404.8,220.4 404.9,218.9 405.0,219.1 405.2,214.5 405.3,218.0 405.5,217.6 405.6,218.3 405.7,218.4 405.9,215.3 406.0,217.7 406.1,214.8 406.3,218.6 406.4,215.3 406.5,212.8 406.7,219.8 406.8,216.7 406.9,216.4 407.1,222.6 407.2,214.3 407.3,219.1 407.5,219.8 407.6,215.9 407.7,214.8 407.9,216.2 408.0,218.2 408.1,221.6 408.3,220.2 408.4,216.2 408.6,215.9 408.7,217.2 408.8,216.2 409.0,221.6 409.1,217.9 409.2,218.4 409.4,217.4 409.5,215.3 409.6,216.8 409.8,215.9 409.9,223.6 410.0,213.2 410.2,219.9 410.3,219.0 410.4,222.0 410.6,220.0 410.7,217.0 410.8,223.5 411.0,222.4 411.1,219.0 411.2,217.0 411.4,223.0 411.5,217.7 411.7,222.3 411.8,220.4 411.9,218.7 412.1,218.8 412.2,216.6 412.3,216.4 412.5,219.8 412.6,218.6 412.7,218.4 412.9,220.2 413.0,218.8 413.1,216.6 413.3,220.2 413.4,217.2 413.5,222.8 413.7,222.0 413.8,216.9 413.9,222.3 414.1,219.5 414.2,217.9 414.3,224.7 414.5,218.2 414.6,217.6 414.8,223.5 414.9,222.0 415.0,218.0 415.2,216.5 415.3,216.3 415.4,221.1 415.6,221.8 415.7,221.4 415.8,224.1 416.0,221.1 416.1,224.5 416.2,223.1 416.4,220.3 416.5,222.9 416.6,220.1 416.8,220.6 416.9,218.4 417.0,218.1 417.2,218.2 417.3,218.3 417.4,219.3 417.6,221.0 417.7,218.7 417.9,223.4 418.0,222.2 418.1,217.2 418.3,221.3 418.4,220.5 418.5,218.0 418.7,224.7 418.8,219.5 418.9,226.0 419.1,225.2 419.2,225.7 419.3,223.7 419.5,218.5 419.6,227.6 419.7,224.2 419.9,220.8 420.0,221.6 420.1,220.8 420.3,221.4 420.4,223.0 420.5,221.0 420.7,226.7 420.8,225.3 421.0,225.7 421.1,222.6 421.2,219.2 421.4,219.9 421.5,224.5 421.6,224.5 421.8,222.1 421.9,220.4 422.0,224.0 422.2,227.6 422.3,224.4 422.4,219.6 422.6,221.8 422.7,220.6 422.8,225.9 423.0,218.2 423.1,223.5 423.2,218.8 423.4,222.1 423.5,222.8 423.6,221.2 423.8,221.6 423.9,221.8 424.0,225.9 424.2,221.2 424.3,223.6 424.5,225.5 424.6,227.6 424.7,222.6 424.9,225.6 425.0,221.8 425.1,227.0 425.3,225.8 425.4,218.4 425.5,225.5 425.7,224.3 425.8,225.6 425.9,226.1 426.1,222.4 426.2,222.6 426.3,228.9 426.5,221.0 426.6,219.6 426.7,222.9 426.9,223.8 427.0,223.5 427.1,226.4 427.3,225.5 427.4,222.6 427.6,227.3 427.7,220.5 427.8,222.6 428.0,226.3 428.1,227.1 428.2,220.4 428.4,222.1 428.5,226.3 428.6,221.6 428.8,227.7 428.9,226.2 429.0,226.6 429.2,221.9 429.3,225.2 429.4,226.5 429.6,222.1 429.7,225.1 429.8,221.8 430.0,221.8 430.1,223.8 430.2,225.7 430.4,222.0 430.5,229.0 430.7,225.2 430.8,224.4 430.9,227.6 431.1,227.7 431.2,221.3 431.3,220.8 431.5,223.4 431.6,226.3 431.7,227.2 431.9,223.3 432.0,224.9 432.1,221.7 432.3,229.7 432.4,219.4 432.5,219.6 432.7,225.2 432.8,222.5 432.9,222.4 433.1,223.7 433.2,225.5 433.3,224.3 433.5,220.4 433.6,228.1 433.8,225.6 433.9,227.0 434.0,222.1 434.2,222.0 434.3,228.6 434.4,225.0 434.6,222.7 434.7,228.9 434.8,223.5 435.0,224.8 435.1,227.9 435.2,224.5 435.4,220.7 435.5,223.7 435.6,226.0 435.8,227.3 435.9,229.2 436.0,222.7 436.2,223.8 436.3,222.7 436.4,223.5 436.6,225.0 436.7,224.2 436.9,222.5 437.0,228.0 437.1,226.2 437.3,225.6 437.4,224.4 437.5,226.9 437.7,230.6 437.8,227.5 437.9,226.8 438.1,222.6 438.2,224.9 438.3,223.3 438.5,226.1 438.6,227.7 438.7,225.6 438.9,221.8 439.0,225.6 439.1,222.8 439.3,228.5 439.4,228.9 439.5,223.9 439.7,226.9 439.8,225.8 439.9,228.4 440.1,223.8 440.2,227.6 440.4,225.2 440.5,227.0 440.6,223.6 440.8,226.7 440.9,223.5 441.0,222.2 441.2,224.8 441.3,222.8 441.4,225.9 441.6,221.8 441.7,224.7 441.8,222.8 442.0,221.6 442.1,223.3 442.2,223.1 442.4,225.0 442.5,226.8 442.6,229.0 442.8,220.2 442.9,225.1 443.0,228.9 443.2,227.3 443.3,224.6 443.5,222.2 443.6,230.1 443.7,222.3 443.9,226.1 444.0,223.3 444.1,223.9 444.3,224.1 444.4,225.6 444.5,228.3 444.7,231.4 444.8,225.0 444.9,223.4 445.1,223.1 445.2,227.0 445.3,219.7 445.5,227.6 445.6,223.6 445.7,222.6 445.9,228.8 446.0,223.6 446.1,224.5 446.3,223.7 446.4,223.2 446.6,226.9 446.7,226.1 446.8,226.6 447.0,223.8 447.1,222.0 447.2,227.9 447.4,225.0 447.5,227.5 447.6,226.6 447.8,226.9 447.9,225.7 448.0,226.9 448.2,228.7 448.3,230.5 448.4,227.0 448.6,223.9 448.7,229.3 448.8,226.4 449.0,225.2 449.1,230.1 449.2,227.3 449.4,222.5 449.5,222.7 449.7,222.9 449.8,230.4 449.9,225.1 450.1,225.3 450.2,227.1 450.3,226.3 450.5,223.4 450.6,224.8 450.7,226.9 450.9,228.9 451.0,224.9 451.1,222.3 451.3,225.9 451.4,228.1 451.5,227.2 451.7,224.5 451.8,228.1 451.9,226.2 452.1,228.2 452.2,229.1 452.3,228.6 452.5,227.3 452.6,223.9 452.8,228.1 452.9,225.9 453.0,224.2 453.2,226.2 453.3,228.1 453.4,227.7 453.6,225.5 453.7,225.2 453.8,226.0 454.0,226.4 454.1,224.3 454.2,225.0 454.4,226.6 454.5,226.6 454.6,226.9 454.8,224.8 454.9,226.4 455.0,224.2 455.2,228.3 455.3,222.6 455.4,228.9 455.6,226.9 455.7,230.0 455.9,229.1 456.0,224.2 456.1,229.4 456.3,228.2 456.4,231.1 456.5,222.4 456.7,229.1 456.8,227.9 456.9,224.1 457.1,226.1 457.2,226.4 457.3,223.7 457.5,230.7 457.6,226.4 457.7,226.6 457.9,225.5 458.0,225.0 458.1,230.6 458.3,230.1 458.4,227.1 458.5,226.5 458.7,228.9 458.8,231.8 458.9,228.5 459.1,229.7 459.2,226.1 459.4,227.9 459.5,225.4 459.6,229.5 459.8,227.6 459.9,231.5 460.0,225.3 460.2,227.1 460.3,228.5 460.4,224.3 460.6,226.3 460.7,227.7 460.8,223.7 461.0,227.5 461.1,223.2 461.2,228.4 461.4,223.1 461.5,229.7 461.6,225.3 461.8,228.8 461.9,227.8 462.0,224.2 462.2,230.6 462.3,229.6 462.5,230.6 462.6,225.7 462.7,229.2 462.9,228.5 463.0,230.5 463.1,229.1 463.3,225.9 463.4,227.2 463.5,226.3 463.7,225.0 463.8,223.7 463.9,228.9 464.1,231.1 464.2,228.9 464.3,230.7 464.5,231.0 464.6,226.5 464.7,226.6 464.9,228.2 465.0,229.6 465.1,226.1 465.3,227.3 465.4,230.6 465.6,224.7 465.7,226.1 465.8,224.5 466.0,224.0 466.1,227.3 466.2,228.8 466.4,227.6 466.5,228.9 466.6,227.6 466.8,230.1 466.9,231.1 467.0,227.1 467.2,228.0 467.3,226.4 467.4,225.7 467.6,225.0 467.7,227.0 467.8,225.7 468.0,226.3 468.1,225.2 468.2,225.0 468.4,231.7 468.5,230.9 468.7,229.3 468.8,230.1 468.9,230.2 469.1,224.2 469.2,232.8 469.3,230.1 469.5,228.1 469.6,230.9 469.7,230.1 469.9,226.8 470.0,227.8 470.1,228.2 470.3,230.5 470.4,229.8 470.5,225.4 470.7,224.0 470.8,231.2 470.9,227.4 471.1,227.4 471.2,226.0 471.3,229.9 471.5,229.6 471.6,231.3 471.8,229.0 471.9,225.4 472.0,226.3 472.2,226.0 472.3,226.3 472.4,231.2 472.6,229.9 472.7,224.5 472.8,225.1 473.0,228.6 473.1,225.7 473.2,225.1 473.4,226.2 473.5,229.1 473.6,226.3 473.8,228.3 473.9,227.1 474.0,228.2 474.2,229.1 474.3,230.2 474.4,226.7 474.6,225.4 474.7,224.4 474.9,230.1 475.0,228.5 475.1,226.9 475.3,226.1 475.4,227.6 475.5,230.2 475.7,227.4 475.8,225.1 475.9,224.6 476.1,225.2 476.2,229.7 476.3,229.7 476.5,225.2 476.6,227.1 476.7,226.4 476.9,229.6 477.0,230.5 477.1,230.0 477.3,225.0 477.4,223.9 477.5,228.4 477.7,225.0 477.8,228.4 477.9,227.7 478.1,228.5 478.2,229.9 478.4,229.9 478.5,230.3 478.6,230.7 478.8,229.0 478.9,231.6 479.0,227.8 479.2,230.4 479.3,229.1 479.4,227.6 479.6,230.9 479.7,228.7 479.8,228.8 480.0,228.5 480.1,227.4 480.2,228.7 480.4,233.1 480.5,225.1 480.6,230.0 480.8,227.1 480.9,229.8 481.0,229.4 481.2,226.0 481.3,225.1 481.5,225.9 481.6,228.6 481.7,226.0 481.9,229.0 482.0,227.2 482.1,226.8 482.3,230.7 482.4,227.1 482.5,224.2 482.7,227.2 482.8,229.7 482.9,229.3 483.1,231.0 483.2,227.3 483.3,226.6 483.5,232.3 483.6,228.5 483.7,228.3 483.9,231.9 484.0,224.3 484.1,228.2 484.3,228.9 484.4,231.8 484.6,227.1 484.7,231.3 484.8,228.9 485.0,233.0 485.1,228.6 485.2,228.3 485.4,226.7 485.5,226.9 485.6,227.9 485.8,232.0 485.9,232.5 486.0,226.8 486.2,225.1 486.3,226.4 486.4,226.9 486.6,228.0 486.7,228.5 486.8,230.0 487.0,231.2 487.1,229.1 487.2,230.7 487.4,229.3 487.5,230.2 487.7,232.5 487.8,231.4 487.9,229.9 488.1,229.2 488.2,227.3 488.3,228.8 488.5,228.6 488.6,229.4 488.7,232.5 488.9,228.6 489.0,226.7 489.1,226.0 489.3,229.6 489.4,232.7 489.5,225.7 489.7,226.9 489.8,227.5 489.9,226.7 490.1,228.4 490.2,226.8 490.3,230.8 490.5,228.7 490.6,230.0 490.8,231.4 490.9,228.3 491.0,231.3 491.2,229.7 491.3,226.7 491.4,230.7 491.6,226.3 491.7,229.0 491.8,229.2 492.0,233.1 492.1,233.7 492.2,228.9 492.4,226.8 492.5,228.6 492.6,226.7 492.8,232.6 492.9,225.0 493.0,226.6 493.2,229.7 493.3,230.5 493.4,228.7 493.6,231.4 493.7,229.0 493.8,229.0 494.0,227.9 494.1,231.1 494.3,233.2 494.4,231.9 494.5,227.6 494.7,230.3 494.8,232.1 494.9,230.4 495.1,232.2 495.2,228.8 495.3,226.2 495.5,225.6 495.6,226.5 495.7,228.6 495.9,229.5 496.0,232.6 496.1,228.2 496.3,232.1 496.4,228.0 496.5,230.3 496.7,227.0 496.8,232.6 496.9,228.1 497.1,232.6 497.2,227.4 497.4,230.2 497.5,227.8 497.6,230.6 497.8,231.2 497.9,227.3 498.0,228.1 498.2,228.1 498.3,228.1 498.4,228.6 498.6,231.2 498.7,229.5 498.8,231.3 499.0,229.5 499.1,228.8 499.2,229.1 499.4,227.1 499.5,228.3 499.6,231.8 499.8,228.3 499.9,227.5 500.0,228.3 500.2,229.5 500.3,226.7 500.5,229.6 500.6,232.3 500.7,230.9 500.9,228.8 501.0,230.8 501.1,230.1 501.3,232.1 501.4,231.0 501.5,233.8 501.7,232.3 501.8,228.9 501.9,230.2 502.1,230.3 502.2,228.0 502.3,228.3 502.5,227.9 502.6,228.2 502.7,227.0 502.9,232.1 503.0,230.2 503.1,226.9 503.3,231.7 503.4,227.5 503.6,232.1 503.7,231.5 503.8,227.2 504.0,230.8 504.1,229.1 504.2,227.4 504.4,232.0 504.5,227.0 504.6,232.1 504.8,231.0 504.9,231.6 505.0,230.3 505.2,231.4 505.3,227.5 505.4,232.0 505.6,233.8 505.7,233.4 505.8,229.2 506.0,229.8 506.1,232.3 506.2,229.9 506.4,229.9 506.5,233.7 506.7,232.4 506.8,226.7 506.9,231.6 507.1,227.9 507.2,230.8 507.3,231.6 507.5,232.8 507.6,231.4 507.7,230.9 507.9,233.5 508.0,231.5 508.1,230.3 508.3,230.4 508.4,234.8 508.5,230.7 508.7,227.1 508.8,234.0 508.9,228.7 509.1,230.9 509.2,229.7 509.3,231.1 509.5,231.7 509.6,231.5 509.8,228.3 509.9,231.7 510.0,234.1 510.2,232.4 510.3,228.9 510.4,230.2 510.6,232.2 510.7,230.7 510.8,228.1 511.0,228.9 511.1,232.9 511.2,232.1 511.4,231.9 511.5,232.0 511.6,228.8 511.8,230.3 511.9,232.9 512.0,228.2 512.2,227.7 512.3,228.8 512.4,231.3 512.6,232.1 512.7,231.3 512.8,228.7 513.0,229.2 513.1,227.0 513.3,227.8 513.4,230.6 513.5,229.8 513.7,232.2 513.8,230.5 513.9,232.6 514.1,232.9 514.2,231.3 514.3,232.5 514.5,230.9 514.6,229.0 514.7,233.3 514.9,233.7 515.0,229.3 515.1,230.8 515.3,230.5 515.4,228.7 515.5,231.0 515.7,229.2 515.8,229.4 515.9,233.2 516.1,232.5 516.2,228.8 516.4,233.0 516.5,230.9 516.6,232.4 516.8,230.3 516.9,227.7 517.0,228.7 517.2,230.8 517.3,232.4 517.4,230.2 517.6,229.3 517.7,230.5 517.8,228.8 518.0,228.9 518.1,226.7 518.2,229.7 518.4,227.4 518.5,230.3 518.6,230.9 518.8,229.0 518.9,233.8 519.0,230.6 519.2,230.9 519.3,234.1 519.5,229.8 519.6,229.5 519.7,228.0 519.9,230.9 520.0,230.4 520.1,228.1 520.3,231.3 520.4,228.7 520.5,231.3 520.7,230.7 520.8,234.4 520.9,232.9 521.1,231.1 521.2,232.2 521.3,229.8 521.5,227.6 521.6,232.8 521.7,234.2 521.9,235.7 522.0,228.5 522.1,234.7 522.3,229.3 522.4,232.9 522.6,231.5 522.7,232.5 522.8,230.5 523.0,234.5 523.1,229.6 523.2,230.3 523.4,231.5 523.5,233.1 523.6,229.3 523.8,231.0 523.9,232.0 524.0,230.2 524.2,232.4 524.3,227.4 524.4,229.9 524.6,230.5 524.7,231.4 524.8,231.5 525.0,230.4 525.1,230.3 525.2,231.3 525.4,229.1 525.5,233.0 525.7,232.1 525.8,229.0 525.9,230.9 526.1,229.6 526.2,227.0 526.3,230.9 526.5,234.3 526.6,229.0 526.7,229.7 526.9,234.1 527.0,228.7 527.1,232.4 527.3,234.7 527.4,233.3 527.5,233.6 527.7,230.2 527.8,229.5 527.9,232.1 528.1,234.3 528.2,231.4 528.3,232.7 528.5,232.3 528.6,229.1 528.8,228.6 528.9,227.5 529.0,229.3 529.2,234.3 529.3,233.2 529.4,230.8 529.6,228.1 529.7,233.3 529.8,230.5 530.0,232.4 530.1,233.3 530.2,233.4 530.4,232.5 530.5,235.0 530.6,234.2 530.8,230.6 530.9,232.1 531.0,230.9 531.2,229.0 531.3,227.3 531.4,232.5 531.6,227.8 531.7,231.0 531.8,231.2 532.0,227.2 532.1,232.8 532.3,231.9 532.4,231.4 532.5,233.7 532.7,232.2 532.8,233.9 532.9,232.2 533.1,230.4 533.2,228.6 533.3,227.0 533.5,233.6 533.6,232.8 533.7,231.5 533.9,231.6 534.0,232.1 534.1,229.6 534.3,230.1 534.4,231.7 534.5,231.1 534.7,230.5 534.8,230.4 534.9,229.7 535.1,229.2 535.2,229.0 535.4,229.2 535.5,233.8 535.6,231.7 535.8,230.2 535.9,232.7 536.0,231.9 536.2,236.6 536.3,233.4 536.4,233.5 536.6,235.0 536.7,232.9 536.8,232.7 537.0,230.2 537.1,232.4 537.2,232.7 537.4,230.6 537.5,232.4 537.6,234.0 537.8,233.0 537.9,230.2 538.0,231.9 538.2,232.9 538.3,230.5 538.5,231.7 538.6,232.9 538.7,231.5 538.9,231.5 539.0,232.8 539.1,234.5 539.3,232.6 539.4,228.9 539.5,234.3 539.7,233.3 539.8,233.7 539.9,230.8 540.1,230.5 540.2,234.4 540.3,229.7 540.5,230.8 540.6,232.8 540.7,229.9 540.9,232.6 541.0,230.3 541.1,234.0 541.3,231.9 541.4,231.4 541.6,230.0 541.7,230.2 541.8,232.1 542.0,234.3 542.1,231.5 542.2,231.6 542.4,229.0 542.5,230.5 542.6,233.6 542.8,234.3 542.9,230.7 543.0,234.8 543.2,231.0 543.3,232.1 543.4,231.7 543.6,231.1 543.7,233.7 543.8,232.1 544.0,232.1 544.1,234.8 544.2,233.8 544.4,232.7 544.5,228.5 544.7,234.8 544.8,232.8 544.9,228.9 545.1,230.3 545.2,228.1 545.3,232.0 545.5,231.8 545.6,231.1 545.7,230.7 545.9,231.2 546.0,232.4 546.1,231.7 546.3,234.9 546.4,232.5 546.5,229.5 546.7,231.8 546.8,234.2 546.9,230.3 547.1,235.2 547.2,230.1 547.3,231.4 547.5,232.7 547.6,232.1 547.7,231.1 547.9,233.3 548.0,233.5 548.2,230.9 548.3,233.3 548.4,233.0 548.6,230.7 548.7,234.6 548.8,228.5 549.0,231.4 549.1,233.5 549.2,231.1 549.4,231.6 549.5,232.1 549.6,231.0 549.8,228.5 549.9,234.7 550.0,229.2 550.2,231.5 550.3,233.9 550.4,231.7 550.6,234.7 550.7,229.1 550.8,231.4 551.0,235.9 551.1,231.7 551.3,231.3 551.4,230.9 551.5,235.3 551.7,229.3 551.8,229.8 551.9,234.7 552.1,232.8 552.2,234.1 552.3,231.0 552.5,234.3 552.6,231.4 552.7,233.5 552.9,230.9 553.0,231.8 553.1,232.0 553.3,235.2 553.4,228.0 553.5,235.4 553.7,232.3 553.8,233.2 553.9,232.6 554.1,232.8 554.2,234.2 554.4,231.2 554.5,229.8 554.6,231.5 554.8,231.8 554.9,232.7 555.0,235.3 555.2,232.6 555.3,232.1 555.4,231.9 555.6,228.6 555.7,234.6 555.8,231.2 556.0,229.8 556.1,230.9 556.2,229.4 556.4,234.4 556.5,230.9 556.6,232.6 556.8,231.2 556.9,228.2 557.0,229.8 557.2,231.8 557.3,234.0 557.5,230.7 557.6,234.2 557.7,233.5 557.9,231.7 558.0,229.6 558.1,231.4 558.3,231.0 558.4,234.3 558.5,233.9 558.7,229.3 558.8,233.5 558.9,229.7 559.1,233.8 559.2,232.9 559.3,233.3 559.5,233.1 559.6,231.4 559.7,230.9 559.9,230.7 560.0,234.5 560.1,233.7 560.3,234.4 560.4,235.3 560.6,231.4 560.7,231.7 560.8,231.6 561.0,236.0 561.1,232.2 561.2,230.6 561.4,233.7 561.5,229.9 561.6,231.4 561.8,236.6 561.9,232.4 562.0,231.2 562.2,232.9 562.3,232.3 562.4,229.1 562.6,231.9 562.7,231.6 562.8,230.4 563.0,231.9 563.1,235.6 563.2,234.3 563.4,233.3 563.5,230.5 563.7,231.1 563.8,231.3 563.9,230.3 564.1,233.8 564.2,233.8 564.3,231.7 564.5,233.9 564.6,234.7 564.7,232.4 564.9,231.5 565.0,228.8 565.1,233.3 565.3,230.1 565.4,230.8 565.5,233.6 565.7,231.7 565.8,231.3 565.9,234.2 566.1,234.6 566.2,229.6 566.3,235.1 566.5,233.6 566.6,232.4 566.7,229.7 566.9,231.4 567.0,232.9 567.2,230.1 567.3,233.7 567.4,231.9 567.6,234.9 567.7,231.4 567.8,231.4 568.0,229.6 568.1,233.6 568.2,234.2 568.4,232.2 568.5,228.9 568.6,233.5 568.8,235.7 568.9,233.8 569.0,229.9 569.2,235.9 569.3,234.1 569.4,234.4 569.6,228.8 569.7,232.4 569.8,230.8 570.0,231.2 570.1,233.8 570.3,230.6 570.4,232.8 570.5,231.8 570.7,233.8 570.8,236.2 570.9,232.8 571.1,233.5 571.2,233.0 571.3,230.6 571.5,233.1 571.6,234.0 571.7,232.5 571.9,232.7 572.0,236.2 572.1,232.6 572.3,231.8 572.4,234.3 572.5,231.0 572.7,231.0 572.8,231.9 572.9,230.4 573.1,235.8 573.2,233.8 573.4,231.1 573.5,232.6 573.6,234.2 573.8,232.9 573.9,232.0 574.0,231.9 574.2,235.5 574.3,235.7 574.4,233.1 574.6,235.5 574.7,236.0 574.8,232.4 575.0,232.8 575.1,234.4 575.2,229.4 575.4,234.2 575.5,229.6 575.6,231.5 575.8,232.1 575.9,232.9 576.0,231.1 576.2,232.9 576.3,235.1 576.5,230.1 576.6,234.7 576.7,233.6 576.9,230.5 577.0,233.2 577.1,234.4 577.3,230.6 577.4,234.4 577.5,235.5 577.7,229.9 577.8,234.2 577.9,233.7 578.1,230.3 578.2,232.5 578.3,229.9 578.5,231.2 578.6,229.5 578.7,234.9 578.9,235.0 579.0,232.4 579.1,230.1 579.3,234.3 579.4,234.3 579.6,234.3 579.7,235.2 579.8,234.0 580.0,233.5 580.1,231.8 580.2,235.5 580.4,233.5 580.5,235.8 580.6,234.7 580.8,235.6 580.9,229.3 581.0,234.7 581.2,234.5 581.3,230.9 581.4,230.3 581.6,230.7 581.7,233.7 581.8,234.0 582.0,234.8 582.1,234.0 582.2,231.2 582.4,231.8 582.5,232.4 582.7,230.6 582.8,232.5 582.9,232.3 583.1,235.5 583.2,234.7 583.3,233.0 583.5,231.1 583.6,230.9 583.7,231.1 583.9,230.5 584.0,230.9 584.1,233.6 584.3,232.8 584.4,235.4 584.5,231.2 584.7,236.0 584.8,229.9 584.9,231.2 585.1,236.5 585.2,231.2 585.3,230.9 585.5,236.3 585.6,233.0 585.7,233.4 585.9,232.9 586.0,230.6 586.2,232.0 586.3,236.6 586.4,232.9 586.6,233.2 586.7,236.7 586.8,235.0 587.0,234.4 587.1,234.7 587.2,233.9 587.4,232.0 587.5,231.6 587.6,234.0 587.8,231.6 587.9,231.9 588.0,232.8 588.2,232.4 588.3,235.8 588.4,230.8 588.6,234.7 588.7,235.7 588.8,233.4 589.0,232.9 589.1,231.8 589.3,236.0 589.4,230.8 589.5,233.5 589.7,230.2 589.8,232.2 589.9,234.5 590.1,235.5 590.2,232.8 590.3,233.0 590.5,233.8 590.6,233.9 590.7,235.9 590.9,233.9 591.0,234.4 591.1,229.7 591.3,235.2 591.4,228.9 591.5,229.1 591.7,235.0 591.8,231.8 591.9,233.6 592.1,233.7 592.2,231.9 592.4,231.5 592.5,234.4 592.6,230.3 592.8,235.9 592.9,236.3 593.0,233.4 593.2,234.5 593.3,233.4 593.4,233.5 593.6,233.2 593.7,232.0 593.8,230.4 594.0,233.0 594.1,234.5 594.2,233.6 594.4,234.2 594.5,234.3 594.6,234.4 594.8,236.5 594.9,231.4 595.0,231.8 595.2,233.2 595.3,234.5 595.5,233.1 595.6,236.1 595.7,232.4 595.9,232.8 596.0,234.1 596.1,232.5 596.3,233.3 596.4,235.3 596.5,235.4 596.7,235.0 596.8,231.1 596.9,234.4 597.1,234.2 597.2,232.5 597.3,234.0 597.5,232.6 597.6,235.4 597.7,234.3 597.9,235.2 598.0,230.9 598.1,233.7 598.3,234.6 598.4,235.0 598.6,233.8 598.7,234.9 598.8,234.2 599.0,231.6 599.1,234.5 599.2,236.3 599.4,234.5 599.5,236.0 599.6,232.0 599.8,235.9 599.9,231.5 600.0,234.8 600.2,232.2 600.3,233.2 600.4,235.7 600.6,231.3 600.7,230.5 600.8,232.9 601.0,233.2 601.1,235.4 601.2,235.6 601.4,233.3 601.5,232.8 601.6,234.7 601.8,236.6 601.9,233.2 602.1,234.1 602.2,234.2 602.3,231.9 602.5,231.9 602.6,232.1 602.7,233.1 602.9,232.4 603.0,231.5 603.1,236.1 603.3,232.2 603.4,236.0 603.5,231.4 603.7,235.3 603.8,232.4 603.9,233.1 604.1,234.5 604.2,233.3 604.3,232.8 604.5,231.9 604.6,234.3 604.7,229.9 604.9,235.4 605.0,234.8 605.2,231.7 605.3,231.8 605.4,232.1 605.6,232.5 605.7,233.0 605.8,232.4 606.0,233.1 606.1,235.8 606.2,232.5 606.4,234.4 606.5,231.2 606.6,232.9 606.8,232.5 606.9,232.1 607.0,231.2 607.2,230.6 607.3,233.8 607.4,234.5 607.6,233.6 607.7,232.0 607.8,233.0 608.0,237.8 608.1,236.4 608.3,234.6 608.4,232.9 608.5,231.3 608.7,235.2 608.8,234.5 608.9,234.4 609.1,236.3 609.2,234.8 609.3,235.4 609.5,234.0 609.6,232.1"/>
<polyline fill="none" stroke="#be4b48" stroke-width="1.8" stroke-linejoin="round" filter="url(#sh)" points="151.4,86.4 151.6,86.6 151.7,91.0 151.9,98.5 152.0,96.9 152.1,103.2 152.3,109.3 152.4,112.8 152.5,116.5 152.7,120.0 152.8,122.6 152.9,122.9 153.1,124.3 153.2,127.6 153.3,138.7 153.5,137.4 153.6,140.6 153.7,146.1 153.9,141.6 154.0,137.9 154.1,145.0 154.3,135.0 154.4,138.3 154.5,144.4 154.7,149.8 154.8,154.8 155.0,147.9 155.1,143.8 155.2,139.9 155.4,147.8 155.5,147.1 155.6,162.5 155.8,154.7 155.9,153.7 156.0,159.0 156.2,158.5 156.3,153.1 156.4,151.1 156.6,167.7 156.7,162.2 156.8,166.3 157.0,165.9 157.1,165.1 157.2,163.6 157.4,155.9 157.5,168.5 157.6,162.0 157.8,169.4 157.9,165.4 158.1,167.2 158.2,162.1 158.3,167.4 158.5,165.8 158.6,165.6 158.7,174.9 158.9,159.7 159.0,178.3 159.1,168.4 159.3,158.8 159.4,172.6 159.5,171.3 159.7,166.0 159.8,165.3 159.9,170.2 160.1,169.8 160.2,166.5 160.3,167.7 160.5,169.2 160.6,165.7 160.7,159.7 160.9,169.2 161.0,174.5 161.2,166.3 161.3,166.9 161.4,175.8 161.6,160.8 161.7,172.0 161.8,167.8 162.0,172.2 162.1,168.7 162.2,169.1 162.4,164.6 162.5,170.1 162.6,177.0 162.8,168.6 162.9,169.3 163.0,174.5 163.2,167.9 163.3,171.7 163.4,165.8 163.6,175.5 163.7,164.4 163.8,168.3 164.0,167.2 164.1,174.6 164.3,170.6 164.4,167.5 164.5,170.2 164.7,176.5 164.8,177.1 164.9,166.7 165.1,173.0 165.2,177.8 165.3,180.0 165.5,172.0 165.6,180.8 165.7,171.5 165.9,170.0 166.0,181.6 166.1,178.7 166.3,171.2 166.4,181.2 166.5,179.4 166.7,165.5 166.8,175.1 166.9,173.2 167.1,171.3 167.2,179.0 167.4,180.9 167.5,170.2 167.6,173.1 167.8,178.6 167.9,175.0 168.0,181.8 168.2,176.7 168.3,178.3 168.4,172.7 168.6,181.6 168.7,184.8 168.8,184.2 169.0,177.8 169.1,171.5 169.2,172.0 169.4,177.0 169.5,172.3 169.6,177.4 169.8,174.8 169.9,174.4 170.0,174.8 170.2,173.5 170.3,172.2 170.4,186.6 170.6,180.4 170.7,184.2 170.9,182.0 171.0,170.9 171.1,181.2 171.3,178.3 171.4,183.0 171.5,177.5 171.7,186.4 171.8,180.7 171.9,171.8 172.1,176.8 172.2,177.3 172.3,181.9 172.5,182.9 172.6,180.0 172.7,185.8 172.9,183.5 173.0,181.1 173.1,173.6 173.3,175.4 173.4,179.0 173.5,183.2 173.7,178.4 173.8,181.3 174.0,182.3 174.1,180.8 174.2,178.7 174.4,188.8 174.5,186.6 174.6,188.6 174.8,186.2 174.9,181.6 175.0,187.6 175.2,187.5 175.3,183.2 175.4,189.4 175.6,181.2 175.7,184.5 175.8,187.1 176.0,181.4 176.1,179.7 176.2,184.1 176.4,189.2 176.5,183.6 176.6,181.1 176.8,177.4 176.9,189.0 177.1,189.3 177.2,186.9 177.3,184.6 177.5,180.1 177.6,181.1 177.7,178.6 177.9,187.5 178.0,183.6 178.1,179.1 178.3,193.6 178.4,190.7 178.5,192.0 178.7,178.4 178.8,186.2 178.9,183.0 179.1,183.3 179.2,185.0 179.3,184.6 179.5,189.9 179.6,188.7 179.7,184.4 179.9,190.2 180.0,183.5 180.2,182.7 180.3,189.0 180.4,185.2 180.6,187.6 180.7,187.5 180.8,181.3 181.0,191.4 181.1,182.5 181.2,188.3 181.4,182.5 181.5,191.0 181.6,187.6 181.8,193.5 181.9,187.2 182.0,182.6 182.2,185.3 182.3,191.7 182.4,181.0 182.6,189.7 182.7,187.8 182.8,181.2 183.0,188.2 183.1,191.7 183.3,189.3 183.4,184.4 183.5,190.2 183.7,193.1 183.8,191.6 183.9,193.2 184.1,195.5 184.2,190.9 184.3,189.0 184.5,191.8 184.6,191.9 184.7,186.4 184.9,187.8 185.0,185.5 185.1,195.0 185.3,189.6 185.4,193.8 185.5,187.9 185.7,191.6 185.8,189.6 185.9,189.9 186.1,183.7 186.2,185.3 186.4,193.6 186.5,185.7 186.6,194.4 186.8,187.5 186.9,188.7 187.0,195.7 187.2,186.1 187.3,195.2 187.4,198.2 187.6,191.1 187.7,189.5 187.8,187.5 188.0,195.8 188.1,190.6 188.2,186.1 188.4,184.1 188.5,186.4 188.6,197.0 188.8,191.7 188.9,187.9 189.0,185.2 189.2,186.1 189.3,195.2 189.4,194.1 189.6,195.6 189.7,189.7 189.9,186.2 190.0,192.0 190.1,192.3 190.3,192.5 190.4,189.4 190.5,189.3 190.7,195.0 190.8,199.4 190.9,197.1 191.1,196.7 191.2,197.1 191.3,183.2 191.5,188.0 191.6,194.8 191.7,184.7 191.9,195.5 192.0,194.6 192.1,186.1 192.3,186.6 192.4,190.4 192.5,198.7 192.7,192.3 192.8,196.6 193.0,200.6 193.1,191.2 193.2,198.3 193.4,202.4 193.5,195.0 193.6,191.3 193.8,190.5 193.9,193.7 194.0,196.7 194.2,189.5 194.3,193.3 194.4,199.1 194.6,191.8 194.7,197.8 194.8,191.1 195.0,194.3 195.1,199.0 195.2,192.2 195.4,190.6 195.5,195.4 195.6,195.7 195.8,187.7 195.9,193.9 196.1,198.2 196.2,194.5 196.3,194.1 196.5,194.8 196.6,188.2 196.7,200.3 196.9,191.0 197.0,193.8 197.1,199.1 197.3,198.6 197.4,194.4 197.5,194.5 197.7,196.3 197.8,195.3 197.9,191.2 198.1,191.8 198.2,194.9 198.3,189.9 198.5,191.8 198.6,196.2 198.7,190.7 198.9,195.9 199.0,196.8 199.2,193.5 199.3,188.3 199.4,190.0 199.6,188.7 199.7,197.5 199.8,191.1 200.0,195.4 200.1,200.3 200.2,196.7 200.4,194.6 200.5,187.9 200.6,188.6 200.8,196.8 200.9,191.4 201.0,196.5 201.2,189.0 201.3,191.4 201.4,195.8 201.6,194.4 201.7,195.0 201.8,189.4 202.0,191.4 202.1,184.6 202.3,180.9 202.4,174.7 202.5,176.3 202.7,182.9 202.8,186.6 202.9,194.7 203.1,190.3 203.2,198.7 203.3,198.0 203.5,191.4 203.6,198.0 203.7,191.7 203.9,192.3 204.0,194.7 204.1,188.3 204.3,199.4 204.4,195.1 204.5,194.3 204.7,192.2 204.8,200.2 204.9,195.9 205.1,188.4 205.2,196.9 205.4,192.6 205.5,192.0 205.6,199.0 205.8,198.2 205.9,190.7 206.0,195.9 206.2,198.0 206.3,194.2 206.4,200.2 206.6,190.4 206.7,198.0 206.8,188.1 207.0,190.1 207.1,191.1 207.2,189.4 207.4,195.4 207.5,195.3 207.6,192.5 207.8,193.3 207.9,200.4 208.0,185.8 208.2,196.1 208.3,193.5 208.4,195.1 208.6,196.2 208.7,190.3 208.9,190.8 209.0,201.8 209.1,190.7 209.3,192.5 209.4,192.0 209.5,191.9 209.7,200.4 209.8,189.7 209.9,198.4 210.1,188.4 210.2,193.5 210.3,196.7 210.5,191.5 210.6,187.8 210.7,197.0 210.9,195.6 211.0,199.6 211.1,190.7 211.3,199.7 211.4,198.0 211.5,191.2 211.7,197.0 211.8,197.7 212.0,202.3 212.1,200.7 212.2,193.0 212.4,199.8 212.5,188.6 212.6,200.5 212.8,198.4 212.9,199.6 213.0,190.7 213.2,191.5 213.3,198.8 213.4,197.0 213.6,199.6 213.7,192.5 213.8,187.1 214.0,188.7 214.1,187.8 214.2,181.4 214.4,179.1 214.5,185.3 214.6,177.6 214.8,181.4 214.9,183.8 215.1,193.7 215.2,195.6 215.3,187.1 215.5,185.0 215.6,187.9 215.7,191.2 215.9,192.6 216.0,189.9 216.1,190.3 216.3,195.6 216.4,190.8 216.5,199.7 216.7,196.3 216.8,190.6 216.9,194.6 217.1,194.9 217.2,196.1 217.3,186.7 217.5,198.9 217.6,195.4 217.7,198.9 217.9,202.3 218.0,201.0 218.2,191.2 218.3,201.0 218.4,194.1 218.6,198.4 218.7,193.9 218.8,189.3 219.0,198.9 219.1,191.6 219.2,192.8 219.4,196.9 219.5,196.5 219.6,191.9 219.8,199.4 219.9,194.7 220.0,193.8 220.2,193.9 220.3,192.8 220.4,198.3 220.6,186.3 220.7,195.3 220.8,194.2 221.0,195.3 221.1,186.3 221.3,189.0 221.4,189.5 221.5,193.8 221.7,187.1 221.8,192.7 221.9,181.8 222.1,188.7 222.2,189.0 222.3,182.1 222.5,178.1 222.6,181.9 222.7,176.0 222.9,168.5 223.0,169.0 223.1,182.1 223.3,175.2 223.4,180.0 223.5,173.7 223.7,186.4 223.8,188.2 223.9,184.5 224.1,187.0 224.2,191.0 224.3,187.8 224.5,190.2 224.6,189.3 224.8,184.8 224.9,188.3 225.0,184.7 225.2,187.5 225.3,191.2 225.4,189.7 225.6,191.6 225.7,194.6 225.8,193.6 226.0,193.1 226.1,195.3 226.2,190.7 226.4,184.6 226.5,198.7 226.6,189.6 226.8,195.2 226.9,189.7 227.0,186.4 227.2,189.6 227.3,196.2 227.4,188.3 227.6,189.1 227.7,186.2 227.9,187.6 228.0,185.2 228.1,187.5 228.3,182.8 228.4,191.8 228.5,184.5 228.7,193.1 228.8,187.9 228.9,184.1 229.1,180.3 229.2,184.6 229.3,185.5 229.5,188.2 229.6,176.8 229.7,181.8 229.9,185.3 230.0,172.0 230.1,178.9 230.3,179.9 230.4,170.2 230.5,174.1 230.7,175.4 230.8,162.2 231.0,168.2 231.1,167.1 231.2,155.0 231.4,155.5 231.5,153.1 231.6,150.2 231.8,155.5 231.9,140.3 232.0,146.0 232.2,149.3 232.3,142.6 232.4,151.7 232.6,142.6 232.7,145.6 232.8,154.6 233.0,151.8 233.1,153.9 233.2,162.0 233.4,170.1 233.5,168.9 233.6,166.1 233.8,169.3 233.9,176.7 234.1,178.4 234.2,180.7 234.3,182.2 234.5,174.3 234.6,180.4 234.7,178.0 234.9,183.9 235.0,190.6 235.1,187.6 235.3,189.2 235.4,182.4 235.5,182.7 235.7,181.3 235.8,179.5 235.9,184.4 236.1,187.0 236.2,186.1 236.3,180.3 236.5,188.6 236.6,182.1 236.7,183.4 236.9,190.4 237.0,187.5 237.2,192.9 237.3,189.0 237.4,180.5 237.6,186.6 237.7,181.5 237.8,180.1 238.0,190.3 238.1,184.1 238.2,189.6 238.4,192.7 238.5,190.4 238.6,189.6 238.8,186.5 238.9,187.1 239.0,184.2 239.2,188.2 239.3,183.5 239.4,189.5 239.6,188.5 239.7,184.2 239.8,188.2 240.0,181.9 240.1,189.5 240.3,189.0 240.4,180.2 240.5,181.1 240.7,189.7 240.8,183.9 240.9,184.2 241.1,187.8 241.2,183.9 241.3,178.7 241.5,178.4 241.6,182.9 241.7,179.4 241.9,174.6 242.0,169.8 242.1,172.1 242.3,155.7 242.4,163.5 242.5,152.7 242.7,145.4 242.8,142.6 242.9,142.1 243.1,139.0 243.2,140.3 243.3,149.3 243.5,149.8 243.6,150.1 243.8,159.2 243.9,159.9 244.0,166.4 244.2,172.9 244.3,171.8 244.4,175.0 244.6,183.1 244.7,182.5 244.8,181.6 245.0,181.1 245.1,185.7 245.2,184.7 245.4,185.2 245.5,186.8 245.6,190.2 245.8,184.6 245.9,182.6 246.0,185.1 246.2,191.5 246.3,183.4 246.4,190.4 246.6,183.5 246.7,194.5 246.9,186.2 247.0,190.6 247.1,187.2 247.3,189.7 247.4,195.1 247.5,185.5 247.7,191.0 247.8,192.8 247.9,194.2 248.1,190.0 248.2,189.3 248.3,190.0 248.5,194.9 248.6,196.5 248.7,187.9 248.9,192.3 249.0,190.0 249.1,191.9 249.3,194.6 249.4,184.1 249.5,190.0 249.7,193.4 249.8,188.7 250.0,187.4 250.1,190.2 250.2,180.4 250.4,189.5 250.5,192.7 250.6,187.1 250.8,193.6 250.9,190.1 251.0,190.8 251.2,189.7 251.3,187.9 251.4,191.8 251.6,189.7 251.7,195.6 251.8,187.9 252.0,182.9 252.1,186.3 252.2,180.7 252.4,188.9 252.5,193.4 252.6,192.1 252.8,183.3 252.9,192.7 253.1,186.7 253.2,194.3 253.3,183.5 253.5,192.0 253.6,190.9 253.7,190.6 253.9,189.9 254.0,183.1 254.1,187.2 254.3,185.8 254.4,189.4 254.5,196.1 254.7,189.0 254.8,189.9 254.9,186.1 255.1,191.3 255.2,193.8 255.3,191.0 255.5,196.9 255.6,198.5 255.7,189.5 255.9,186.6 256.0,185.9 256.2,187.3 256.3,188.1 256.4,186.5 256.6,190.7 256.7,195.1 256.8,186.5 257.0,186.8 257.1,186.1 257.2,184.3 257.4,186.0 257.5,184.1 257.6,196.8 257.8,179.5 257.9,190.0 258.0,187.1 258.2,186.1 258.3,190.3 258.4,190.1 258.6,181.1 258.7,188.5 258.8,182.1 259.0,191.3 259.1,187.5 259.3,187.4 259.4,191.3 259.5,187.0 259.7,189.5 259.8,188.3 259.9,191.1 260.1,184.9 260.2,184.3 260.3,180.4 260.5,181.5 260.6,179.3 260.7,178.1 260.9,185.5 261.0,186.9 261.1,187.2 261.3,191.3 261.4,186.0 261.5,190.1 261.7,189.9 261.8,181.2 261.9,194.0 262.1,183.6 262.2,191.2 262.3,187.0 262.5,187.4 262.6,190.0 262.8,185.9 262.9,189.3 263.0,190.7 263.2,184.4 263.3,189.3 263.4,180.2 263.6,185.2 263.7,187.0 263.8,193.3 264.0,178.7 264.1,187.1 264.2,182.1 264.4,182.0 264.5,179.5 264.6,184.9 264.8,181.5 264.9,185.2 265.0,171.5 265.2,170.2 265.3,182.7 265.4,177.1 265.6,184.0 265.7,177.7 265.9,184.7 266.0,186.6 266.1,187.1 266.3,174.2 266.4,180.5 266.5,186.3 266.7,179.4 266.8,187.0 266.9,189.8 267.1,178.9 267.2,193.4 267.3,180.8 267.5,178.2 267.6,190.2 267.7,181.6 267.9,182.3 268.0,194.7 268.1,186.9 268.3,188.5 268.4,186.0 268.5,187.2 268.7,187.9 268.8,193.5 269.0,188.8 269.1,188.2 269.2,181.7 269.4,183.0 269.5,183.1 269.6,183.8 269.8,181.0 269.9,184.9 270.0,191.2 270.2,193.6 270.3,183.8 270.4,183.0 270.6,188.9 270.7,183.8 270.8,176.2 271.0,183.9 271.1,183.7 271.2,178.1 271.4,184.7 271.5,185.3 271.6,188.4 271.8,175.5 271.9,184.0 272.1,172.5 272.2,181.4 272.3,177.2 272.5,173.3 272.6,168.9 272.7,164.3 272.9,158.5 273.0,152.6 273.1,155.3 273.3,157.2 273.4,151.8 273.5,151.0 273.7,159.4 273.8,165.6 273.9,172.5 274.1,176.0 274.2,175.1 274.3,177.3 274.5,169.6 274.6,176.8 274.7,183.1 274.9,178.9 275.0,184.5 275.2,174.9 275.3,179.9 275.4,179.4 275.6,189.1 275.7,180.4 275.8,179.0 276.0,184.0 276.1,187.5 276.2,187.0 276.4,180.7 276.5,185.7 276.6,176.2 276.8,185.6 276.9,179.9 277.0,187.9 277.2,181.4 277.3,184.6 277.4,182.6 277.6,180.5 277.7,187.7 277.8,183.2 278.0,183.7 278.1,175.7 278.2,178.0 278.4,183.0 278.5,185.9 278.7,183.9 278.8,183.6 278.9,172.4 279.1,176.3 279.2,178.6 279.3,182.9 279.5,181.1 279.6,185.9 279.7,179.7 279.9,189.7 280.0,191.1 280.1,185.2 280.3,188.5 280.4,180.7 280.5,192.1 280.7,176.1 280.8,190.5 280.9,190.6 281.1,190.0 281.2,185.1 281.3,180.8 281.5,182.3 281.6,177.4 281.8,181.3 281.9,174.3 282.0,183.8 282.2,183.1 282.3,186.4 282.4,181.0 282.6,181.6 282.7,184.5 282.8,172.4 283.0,177.6 283.1,180.6 283.2,182.9 283.4,183.0 283.5,178.4 283.6,179.4 283.8,182.8 283.9,183.9 284.0,179.3 284.2,185.4 284.3,185.5 284.4,184.3 284.6,178.2 284.7,178.9 284.9,176.7 285.0,186.0 285.1,177.3 285.3,176.9 285.4,184.7 285.5,173.9 285.7,165.1 285.8,164.7 285.9,163.8 286.1,162.8 286.2,163.1 286.3,167.1 286.5,182.9 286.6,182.4 286.7,182.3 286.9,179.4 287.0,187.5 287.1,183.0 287.3,178.8 287.4,178.8 287.5,192.2 287.7,185.6 287.8,189.4 288.0,181.0 288.1,191.5 288.2,187.2 288.4,186.0 288.5,192.1 288.6,180.9 288.8,189.8 288.9,178.0 289.0,175.1 289.2,180.5 289.3,176.8 289.4,164.9 289.6,171.6 289.7,156.4 289.8,139.9 290.0,132.3 290.1,100.0 290.2,77.8 290.4,87.6 290.5,101.6 290.6,124.2 290.8,146.7 290.9,159.0 291.1,165.9 291.2,170.2 291.3,181.9 291.5,181.9 291.6,180.6 291.7,185.2 291.9,186.7 292.0,187.3 292.1,184.1 292.3,185.7 292.4,181.7 292.5,177.5 292.7,172.5 292.8,172.4 292.9,171.2 293.1,167.4 293.2,161.0 293.3,170.3 293.5,169.3 293.6,175.4 293.7,178.1 293.9,177.7 294.0,178.2 294.2,188.6 294.3,188.9 294.4,182.5 294.6,181.2 294.7,186.4 294.8,179.1 295.0,189.8 295.1,181.1 295.2,182.1 295.4,173.6 295.5,174.2 295.6,169.4 295.8,151.5 295.9,134.8 296.0,131.8 296.2,121.1 296.3,132.5 296.4,158.1 296.6,158.8 296.7,170.9 296.8,180.2 297.0,183.9 297.1,182.5 297.2,183.0 297.4,184.5 297.5,193.6 297.7,178.5 297.8,190.4 297.9,191.2 298.1,188.2 298.2,193.3 298.3,184.1 298.5,189.9 298.6,188.1 298.7,191.1 298.9,190.5 299.0,197.3 299.1,196.1 299.3,190.1 299.4,183.9 299.5,185.5 299.7,182.7 299.8,187.3 299.9,183.8 300.1,185.2 300.2,171.3 300.3,182.3 300.5,179.0 300.6,179.3 300.8,191.0 300.9,181.1 301.0,183.8 301.2,194.0 301.3,195.7 301.4,189.1 301.6,189.2 301.7,188.7 301.8,188.1 302.0,184.6 302.1,185.6 302.2,194.0 302.4,186.3 302.5,191.5 302.6,183.6 302.8,192.2 302.9,201.2 303.0,188.5 303.2,191.4 303.3,186.5 303.4,189.4 303.6,188.6 303.7,189.2 303.9,180.4 304.0,188.9 304.1,189.6 304.3,194.1 304.4,193.5 304.5,196.7 304.7,194.5 304.8,191.7 304.9,192.1 305.1,191.0 305.2,193.9 305.3,189.9 305.5,188.5 305.6,182.4 305.7,191.7 305.9,190.5 306.0,181.4 306.1,170.5 306.3,175.1 306.4,170.4 306.5,160.0 306.7,163.8 306.8,161.6 307.0,169.1 307.1,174.1 307.2,175.0 307.4,182.9 307.5,173.8 307.6,192.5 307.8,178.2 307.9,183.3 308.0,186.2 308.2,194.8 308.3,184.1 308.4,190.7 308.6,192.3 308.7,195.0 308.8,197.9 309.0,182.1 309.1,186.1 309.2,194.3 309.4,184.2 309.5,183.4 309.6,190.7 309.8,190.4 309.9,189.6 310.1,186.3 310.2,179.4 310.3,184.2 310.5,179.3 310.6,183.5 310.7,174.7 310.9,188.4 311.0,182.5 311.1,186.4 311.3,193.3 311.4,182.6 311.5,196.6 311.7,193.6 311.8,192.0 311.9,188.5 312.1,187.5 312.2,183.7 312.3,182.7 312.5,196.6 312.6,178.4 312.7,178.6 312.9,169.0 313.0,159.8 313.2,150.0 313.3,144.7 313.4,130.3 313.6,136.9 313.7,149.0 313.8,162.5 314.0,165.6 314.1,180.3 314.2,175.2 314.4,187.3 314.5,187.8 314.6,190.6 314.8,177.7 314.9,183.5 315.0,177.6 315.2,189.3 315.3,171.5 315.4,180.3 315.6,161.9 315.7,170.1 315.8,158.4 316.0,166.4 316.1,168.0 316.2,172.9 316.4,183.4 316.5,187.0 316.7,193.4 316.8,185.7 316.9,194.0 317.1,203.7 317.2,199.9 317.3,195.3 317.5,200.4 317.6,195.1 317.7,189.8 317.9,195.2 318.0,191.9 318.1,202.4 318.3,189.1 318.4,191.2 318.5,189.6 318.7,195.5 318.8,198.7 318.9,193.6 319.1,202.7 319.2,197.2 319.3,191.4 319.5,192.6 319.6,201.3 319.8,207.8 319.9,204.2 320.0,195.4 320.2,199.1 320.3,192.6 320.4,205.5 320.6,193.3 320.7,199.3 320.8,203.0 321.0,205.9 321.1,204.0 321.2,201.4 321.4,202.5 321.5,199.6 321.6,183.8 321.8,193.4 321.9,191.7 322.0,185.6 322.2,193.4 322.3,180.3 322.4,178.3 322.6,176.3 322.7,159.1 322.9,127.9 323.0,99.8 323.1,91.5 323.3,114.5 323.4,154.9 323.5,161.6 323.7,174.3 323.8,184.6 323.9,185.5 324.1,194.5 324.2,202.0 324.3,189.8 324.5,189.0 324.6,204.6 324.7,197.4 324.9,204.2 325.0,191.6 325.1,207.0 325.3,197.3 325.4,205.6 325.5,196.8 325.7,196.1 325.8,192.8 326.0,209.5 326.1,199.1 326.2,202.9 326.4,204.6 326.5,200.0 326.6,199.4 326.8,185.3 326.9,182.9 327.0,189.3 327.2,179.3 327.3,190.5 327.4,192.6 327.6,190.0 327.7,191.8 327.8,195.6 328.0,189.2 328.1,194.7 328.2,191.6 328.4,198.7 328.5,193.5 328.6,206.4 328.8,199.8 328.9,206.2 329.1,194.0 329.2,208.1 329.3,197.9 329.5,201.6 329.6,196.4 329.7,204.3 329.9,193.0 330.0,200.7 330.1,199.1 330.3,192.8 330.4,209.1 330.5,195.4 330.7,198.3 330.8,199.3 330.9,197.3 331.1,202.9 331.2,201.0 331.3,193.5 331.5,202.5 331.6,196.1 331.7,207.3 331.9,200.3 332.0,198.2 332.1,205.7 332.3,208.0 332.4,195.3 332.6,196.5 332.7,202.9 332.8,208.6 333.0,198.0 333.1,197.0 333.2,194.3 333.4,197.0 333.5,202.6 333.6,200.3 333.8,199.8 333.9,204.8 334.0,202.2 334.2,200.7 334.3,192.7 334.4,200.2 334.6,204.2 334.7,199.8 334.8,198.9 335.0,203.4 335.1,198.4 335.2,197.4 335.4,192.2 335.5,197.9 335.7,192.8 335.8,193.9 335.9,184.6 336.1,187.5 336.2,182.9 336.3,180.4 336.5,190.2 336.6,194.1 336.7,187.7 336.9,195.8 337.0,189.2 337.1,193.0 337.3,199.9 337.4,196.8 337.5,203.7 337.7,198.3 337.8,193.5 337.9,206.9 338.1,197.3 338.2,207.4 338.3,200.8 338.5,196.5 338.6,195.1 338.8,203.1 338.9,196.7 339.0,207.0 339.2,200.2 339.3,201.8 339.4,198.5 339.6,207.2 339.7,202.6 339.8,203.3 340.0,204.7 340.1,201.3 340.2,197.4 340.4,199.8 340.5,210.0 340.6,198.8 340.8,193.8 340.9,205.9 341.0,202.6 341.2,204.7 341.3,196.6 341.4,200.9 341.6,197.0 341.7,209.6 341.9,201.4 342.0,205.3 342.1,208.0 342.3,203.1 342.4,200.8 342.5,202.0 342.7,202.1 342.8,205.3 342.9,201.0 343.1,202.9 343.2,196.9 343.3,200.2 343.5,203.9 343.6,201.2 343.7,206.4 343.9,202.3 344.0,208.4 344.1,194.6 344.3,204.0 344.4,209.3 344.5,203.8 344.7,195.2 344.8,204.0 345.0,202.4 345.1,196.6 345.2,199.5 345.4,205.1 345.5,207.6 345.6,205.1 345.8,203.9 345.9,198.4 346.0,202.4 346.2,197.0 346.3,197.3 346.4,200.7 346.6,205.3 346.7,206.0 346.8,205.3 347.0,200.7 347.1,200.7 347.2,201.2 347.4,206.7 347.5,198.7 347.6,204.5 347.8,197.7 347.9,207.9 348.1,198.3 348.2,197.9 348.3,203.3 348.5,201.7 348.6,201.7 348.7,198.0 348.9,195.1 349.0,194.1 349.1,199.0 349.3,203.5 349.4,194.4 349.5,196.2 349.7,206.1 349.8,200.8 349.9,197.3 350.1,199.3 350.2,197.1 350.3,208.7 350.5,205.2 350.6,204.1 350.7,201.9 350.9,208.0 351.0,207.9 351.1,206.2 351.3,208.9 351.4,203.1 351.6,207.7 351.7,206.8 351.8,206.7 352.0,199.2 352.1,210.3 352.2,202.5 352.4,202.8 352.5,208.3 352.6,207.9 352.8,202.9 352.9,203.2 353.0,203.0 353.2,212.0 353.3,207.1 353.4,198.8 353.6,207.0 353.7,198.1 353.8,206.0 354.0,207.7 354.1,201.6 354.2,201.8 354.4,194.7 354.5,198.1 354.7,196.7 354.8,191.6 354.9,199.0 355.1,198.5 355.2,192.5 355.3,191.0 355.5,195.1 355.6,198.1 355.7,195.7 355.9,198.8 356.0,197.8 356.1,199.9 356.3,199.1 356.4,209.4 356.5,209.1 356.7,205.9 356.8,199.6 356.9,206.3 357.1,208.5 357.2,209.4 357.3,207.0 357.5,201.5 357.6,207.0 357.8,202.2 357.9,200.4 358.0,204.8 358.2,197.1 358.3,208.8 358.4,208.3 358.6,208.4 358.7,210.6 358.8,199.2 359.0,207.7 359.1,202.2 359.2,206.2 359.4,202.0 359.5,203.0 359.6,196.4 359.8,207.2 359.9,207.0 360.0,207.7 360.2,204.7 360.3,204.0 360.4,202.8 360.6,210.8 360.7,201.9 360.9,205.6 361.0,213.1 361.1,211.2 361.3,201.5 361.4,209.7 361.5,201.2 361.7,206.2 361.8,201.5 361.9,205.7 362.1,210.6 362.2,205.2 362.3,208.4 362.5,211.9 362.6,202.6 362.7,202.7 362.9,202.7 363.0,204.1 363.1,204.8 363.3,209.5 363.4,202.3 363.5,202.3 363.7,200.7 363.8,204.6 364.0,203.7 364.1,207.5 364.2,209.5 364.4,200.1 364.5,209.0 364.6,202.6 364.8,198.6 364.9,200.1 365.0,195.3 365.2,187.1 365.3,182.8 365.4,180.4 365.6,181.8 365.7,177.0 365.8,178.6 366.0,180.4 366.1,187.5 366.2,191.8 366.4,196.4 366.5,194.5 366.6,199.3 366.8,197.5 366.9,204.2 367.1,209.7 367.2,206.7 367.3,204.0 367.5,205.0 367.6,201.1 367.7,203.6 367.9,207.8 368.0,207.5 368.1,209.9 368.3,209.9 368.4,205.6 368.5,212.6 368.7,203.9 368.8,214.1 368.9,204.5 369.1,210.2 369.2,203.4 369.3,211.6 369.5,202.2 369.6,207.7 369.7,208.5 369.9,213.2 370.0,207.7 370.1,202.7 370.3,195.1 370.4,192.5 370.6,191.6 370.7,169.5 370.8,142.8 371.0,79.1 371.1,31.1 371.2,76.2 371.4,133.0 371.5,163.7 371.6,191.1 371.8,195.1 371.9,196.3 372.0,200.9 372.2,203.9 372.3,208.8 372.4,205.6 372.6,208.2 372.7,208.8 372.8,202.3 373.0,210.2 373.1,209.4 373.2,211.0 373.4,207.2 373.5,212.2 373.7,211.6 373.8,205.9 373.9,209.1 374.1,206.4 374.2,210.9 374.3,213.8 374.5,212.0 374.6,212.6 374.7,209.6 374.9,211.2 375.0,210.7 375.1,204.5 375.3,202.9 375.4,207.2 375.5,205.4 375.7,205.2 375.8,205.9 375.9,210.1 376.1,203.8 376.2,211.2 376.3,209.4 376.5,204.3 376.6,211.3 376.8,198.6 376.9,198.9 377.0,207.6 377.2,198.6 377.3,193.2 377.4,196.7 377.6,193.5 377.7,192.5 377.8,190.9 378.0,192.5 378.1,189.8 378.2,192.9 378.4,202.8 378.5,203.6 378.6,208.7 378.8,207.9 378.9,209.0 379.0,203.4 379.2,209.4 379.3,208.2 379.4,209.0 379.6,203.4 379.7,211.1 379.9,212.4 380.0,210.8 380.1,213.8 380.3,214.3 380.4,209.7 380.5,213.0 380.7,215.4 380.8,205.4 380.9,210.9 381.1,213.2 381.2,212.0 381.3,210.7 381.5,209.6 381.6,213.4 381.7,214.4 381.9,211.1 382.0,214.9 382.1,208.5 382.3,213.1 382.4,211.4 382.5,215.0 382.7,214.9 382.8,216.0 383.0,211.1 383.1,212.2 383.2,205.7 383.4,214.9 383.5,206.3 383.6,213.5 383.8,208.0 383.9,204.1 384.0,205.7 384.2,197.5 384.3,201.7 384.4,204.7 384.6,202.9 384.7,206.3 384.8,211.4 385.0,214.5 385.1,203.3 385.2,208.2 385.4,210.2 385.5,213.2 385.6,204.4 385.8,213.9 385.9,213.9 386.0,213.5 386.2,214.2 386.3,219.5 386.5,207.2 386.6,209.1 386.7,214.6 386.9,213.1 387.0,209.8 387.1,212.1 387.3,212.7 387.4,215.3 387.5,214.2 387.7,213.9 387.8,208.3 387.9,216.3 388.1,217.1 388.2,210.1 388.3,213.8 388.5,212.7 388.6,210.6 388.7,211.9 388.9,208.5 389.0,215.8 389.1,216.3 389.3,216.8 389.4,206.0 389.6,214.4 389.7,208.2 389.8,211.0 390.0,205.6 390.1,215.9 390.2,205.5 390.4,204.5 390.5,207.0 390.6,215.1 390.8,202.7 390.9,201.8 391.0,207.8 391.2,195.2 391.3,203.9 391.4,202.1 391.6,198.5 391.7,191.4 391.8,191.8 392.0,196.9 392.1,193.2 392.2,194.6 392.4,204.0 392.5,203.1 392.7,209.2 392.8,206.5 392.9,210.5 393.1,212.0 393.2,215.1 393.3,209.8 393.5,211.0 393.6,209.2 393.7,214.0 393.9,207.8 394.0,218.0 394.1,217.9 394.3,212.4 394.4,217.8 394.5,218.0 394.7,211.7 394.8,213.7 394.9,210.1 395.1,215.0 395.2,212.9 395.3,215.5 395.5,210.6 395.6,213.7 395.8,208.5 395.9,218.1 396.0,216.3 396.2,213.5 396.3,219.8 396.4,211.4 396.6,212.4 396.7,213.9 396.8,217.5 397.0,209.6 397.1,215.1 397.2,218.3 397.4,217.5 397.5,210.2 397.6,216.8 397.8,218.3 397.9,217.5 398.0,212.1 398.2,217.4 398.3,220.8 398.4,216.3 398.6,212.9 398.7,215.3 398.9,210.4 399.0,216.7 399.1,213.8 399.3,214.9 399.4,215.7 399.5,215.0 399.7,212.3 399.8,217.1 399.9,213.6 400.1,211.2 400.2,208.3 400.3,209.9 400.5,204.7 400.6,207.2 400.7,199.6 400.9,201.8 401.0,203.9 401.1,199.3 401.3,205.1 401.4,206.2 401.5,208.6 401.7,213.3 401.8,211.7 402.0,214.4 402.1,211.5 402.2,214.4 402.4,216.7 402.5,216.5 402.6,217.3 402.8,212.4 402.9,218.2 403.0,220.0 403.2,219.4 403.3,219.2 403.4,214.5 403.6,218.3 403.7,211.5 403.8,216.6 404.0,219.4 404.1,216.2 404.2,217.2 404.4,218.4 404.5,214.8 404.6,214.6 404.8,218.0 404.9,211.9 405.0,216.2 405.2,210.1 405.3,208.6 405.5,209.2 405.6,202.5 405.7,201.7 405.9,201.8 406.0,198.8 406.1,206.4 406.3,199.9 406.4,205.2 406.5,207.1 406.7,214.1 406.8,211.0 406.9,219.0 407.1,211.9 407.2,216.2 407.3,213.3 407.5,219.4 407.6,217.7 407.7,221.3 407.9,220.7 408.0,216.5 408.1,221.8 408.3,216.1 408.4,216.9 408.6,223.8 408.7,216.4 408.8,219.4 409.0,223.8 409.1,219.9 409.2,218.1 409.4,218.7 409.5,215.9 409.6,221.1 409.8,216.6 409.9,219.4 410.0,222.6 410.2,216.9 410.3,219.7 410.4,221.1 410.6,218.4 410.7,222.0 410.8,223.4 411.0,217.6 411.1,223.9 411.2,221.0 411.4,223.7 411.5,216.3 411.7,217.5 411.8,219.1 411.9,218.5 412.1,217.1 412.2,217.6 412.3,218.6 412.5,217.7 412.6,221.5 412.7,218.6 412.9,224.5 413.0,223.0 413.1,223.2 413.3,217.7 413.4,220.8 413.5,214.8 413.7,218.6 413.8,225.3 413.9,222.7 414.1,225.5 414.2,219.4 414.3,224.0 414.5,219.1 414.6,224.8 414.8,217.8 414.9,220.4 415.0,221.8 415.2,220.5 415.3,218.9 415.4,224.4 415.6,219.6 415.7,221.4 415.8,219.5 416.0,221.3 416.1,223.8 416.2,220.8 416.4,220.3 416.5,223.5 416.6,226.0 416.8,218.4 416.9,218.9 417.0,222.9 417.2,222.7 417.3,221.3 417.4,218.4 417.6,221.3 417.7,220.6 417.9,218.7 418.0,225.6 418.1,221.1 418.3,219.2 418.4,220.8 418.5,220.4 418.7,225.7 418.8,220.1 418.9,223.3 419.1,220.0 419.2,221.2 419.3,224.5 419.5,221.0 419.6,223.2 419.7,220.1 419.9,221.9 420.0,227.9 420.1,222.8 420.3,227.1 420.4,226.3 420.5,224.6 420.7,222.6 420.8,225.0 421.0,226.0 421.1,225.0 421.2,224.4 421.4,221.5 421.5,227.6 421.6,228.2 421.8,225.6 421.9,219.8 422.0,220.1 422.2,221.3 422.3,225.1 422.4,223.4 422.6,223.5 422.7,220.1 422.8,221.2 423.0,227.1 423.1,223.3 423.2,224.3 423.4,227.3 423.5,224.4 423.6,226.3 423.8,221.4 423.9,222.7 424.0,221.9 424.2,226.0 424.3,221.8 424.5,223.4 424.6,224.0 424.7,224.6 424.9,224.0 425.0,222.7 425.1,224.8 425.3,224.9 425.4,223.9 425.5,220.4 425.7,227.5 425.8,220.0 425.9,229.3 426.1,225.0 426.2,224.9 426.3,224.2 426.5,225.2 426.6,227.0 426.7,226.7 426.9,221.1 427.0,224.2 427.1,219.7 427.3,222.5 427.4,217.4 427.6,222.9 427.7,216.9 427.8,219.4 428.0,221.7 428.1,223.5 428.2,224.7 428.4,223.8 428.5,221.6 428.6,223.8 428.8,221.7 428.9,226.0 429.0,221.7 429.2,227.7 429.3,226.3 429.4,225.9 429.6,225.2 429.7,227.2 429.8,222.2 430.0,226.6 430.1,225.6 430.2,228.9 430.4,223.7 430.5,228.5 430.7,224.8 430.8,222.3 430.9,226.3 431.1,227.6 431.2,228.2 431.3,223.2 431.5,229.6 431.6,224.0 431.7,228.4 431.9,227.7 432.0,220.9 432.1,223.9 432.3,226.8 432.4,222.6 432.5,228.9 432.7,222.4 432.8,224.0 432.9,221.5 433.1,224.5 433.2,225.4 433.3,224.2 433.5,225.2 433.6,229.4 433.8,224.2 433.9,227.4 434.0,224.2 434.2,223.6 434.3,224.0 434.4,224.2 434.6,228.5 434.7,230.9 434.8,229.9 435.0,228.4 435.1,227.3 435.2,228.8 435.4,227.2 435.5,224.9 435.6,225.7 435.8,225.0 435.9,226.1 436.0,224.2 436.2,227.0 436.3,227.1 436.4,227.6 436.6,230.0 436.7,230.5 436.9,222.3 437.0,229.1 437.1,223.2 437.3,226.2 437.4,228.6 437.5,223.1 437.7,225.2 437.8,223.6 437.9,226.7 438.1,223.6 438.2,226.2 438.3,228.1 438.5,226.0 438.6,225.3 438.7,221.7 438.9,223.0 439.0,223.7 439.1,225.3 439.3,229.5 439.4,224.9 439.5,222.9 439.7,227.1 439.8,231.3 439.9,224.8 440.1,225.6 440.2,224.2 440.4,222.2 440.5,225.4 440.6,225.1 440.8,223.6 440.9,225.3 441.0,225.2 441.2,223.2 441.3,222.7 441.4,231.4 441.6,228.2 441.7,222.8 441.8,223.6 442.0,230.0 442.1,221.9 442.2,229.0 442.4,225.7 442.5,228.3 442.6,227.8 442.8,228.0 442.9,230.6 443.0,228.8 443.2,230.5 443.3,224.5 443.5,228.0 443.6,224.0 443.7,223.4 443.9,224.0 444.0,225.0 444.1,225.3 444.3,228.7 444.4,223.4 444.5,226.2 444.7,228.0 444.8,225.4 444.9,229.9 445.1,227.7 445.2,228.8 445.3,225.1 445.5,227.2 445.6,229.1 445.7,222.6 445.9,227.0 446.0,225.0 446.1,224.7 446.3,226.8 446.4,229.6 446.6,230.6 446.7,229.8 446.8,226.2 447.0,231.3 447.1,228.8 447.2,224.8 447.4,224.7 447.5,224.9 447.6,227.4 447.8,224.8 447.9,229.7 448.0,225.0 448.2,226.1 448.3,224.8 448.4,224.1 448.6,227.7 448.7,228.3 448.8,224.1 449.0,229.5 449.1,226.7 449.2,228.0 449.4,229.6 449.5,225.6 449.7,230.7 449.8,226.5 449.9,223.1 450.1,224.1 450.2,225.9 450.3,224.5 450.5,225.5 450.6,228.4 450.7,223.4 450.9,230.6 451.0,228.7 451.1,230.5 451.3,227.4 451.4,231.3 451.5,226.0 451.7,230.0 451.8,226.0 451.9,225.8 452.1,224.7 452.2,223.7 452.3,221.2 452.5,223.6 452.6,223.5 452.8,223.9 452.9,222.2 453.0,225.3 453.2,220.3 453.3,221.5 453.4,229.3 453.6,229.4 453.7,229.0 453.8,225.7 454.0,227.0 454.1,228.1 454.2,227.0 454.4,228.2 454.5,228.9 454.6,230.5 454.8,228.3 454.9,229.8 455.0,224.8 455.2,226.1 455.3,228.9 455.4,226.8 455.6,225.0 455.7,230.2 455.9,228.7 456.0,225.6 456.1,226.4 456.3,229.3 456.4,229.2 456.5,226.9 456.7,232.0 456.8,231.0 456.9,226.9 457.1,227.8 457.2,227.0 457.3,225.3 457.5,224.7 457.6,229.2 457.7,229.7 457.9,227.4 458.0,230.6 458.1,225.1 458.3,227.7 458.4,224.5 458.5,225.9 458.7,231.3 458.8,225.9 458.9,229.6 459.1,231.4 459.2,231.4 459.4,229.9 459.5,231.1 459.6,231.6 459.8,224.1 459.9,224.9 460.0,224.6 460.2,227.3 460.3,227.7 460.4,231.6 460.6,231.5 460.7,228.0 460.8,226.5 461.0,228.8 461.1,228.2 461.2,227.0 461.4,228.5 461.5,230.0 461.6,227.8 461.8,224.9 461.9,224.9 462.0,224.9 462.2,227.8 462.3,229.0 462.5,231.9 462.6,229.0 462.7,228.1 462.9,226.3 463.0,224.7 463.1,230.9 463.3,231.2 463.4,230.9 463.5,226.0 463.7,230.1 463.8,226.8 463.9,229.1 464.1,225.6 464.2,228.8 464.3,231.1 464.5,231.2 464.6,230.2 464.7,226.7 464.9,227.0 465.0,228.5 465.1,225.4 465.3,227.2 465.4,230.0 465.6,223.6 465.7,226.0 465.8,230.4 466.0,231.1 466.1,227.6 466.2,226.8 466.4,228.0 466.5,230.4 466.6,227.3 466.8,227.5 466.9,228.2 467.0,230.3 467.2,226.3 467.3,226.3 467.4,232.1 467.6,229.2 467.7,230.7 467.8,229.3 468.0,228.5 468.1,226.9 468.2,230.2 468.4,230.0 468.5,226.3 468.7,226.8 468.8,229.6 468.9,231.0 469.1,230.4 469.2,227.1 469.3,227.5 469.5,231.6 469.6,228.8 469.7,233.5 469.9,224.8 470.0,225.8 470.1,232.8 470.3,231.2 470.4,231.7 470.5,231.0 470.7,226.9 470.8,230.9 470.9,232.0 471.1,231.3 471.2,227.0 471.3,226.6 471.5,232.2 471.6,228.2 471.8,228.3 471.9,228.6 472.0,229.2 472.2,227.0 472.3,230.4 472.4,227.2 472.6,229.7 472.7,232.4 472.8,229.2 473.0,230.8 473.1,227.4 473.2,230.4 473.4,228.1 473.5,230.0 473.6,229.1 473.8,230.6 473.9,227.5 474.0,231.7 474.2,226.8 474.3,230.4 474.4,231.3 474.6,232.6 474.7,228.8 474.9,232.1 475.0,228.9 475.1,230.5 475.3,228.6 475.4,228.1 475.5,227.3 475.7,233.4 475.8,225.7 475.9,231.7 476.1,228.8 476.2,224.8 476.3,231.0 476.5,231.5 476.6,227.0 476.7,228.7 476.9,226.4 477.0,227.5 477.1,226.9 477.3,227.8 477.4,232.5 477.5,226.2 477.7,231.4 477.8,232.3 477.9,229.2 478.1,232.0 478.2,231.7 478.4,229.3 478.5,227.1 478.6,231.5 478.8,231.1 478.9,228.5 479.0,229.9 479.2,228.1 479.3,225.7 479.4,232.4 479.6,228.2 479.7,231.3 479.8,226.3 480.0,232.8 480.1,226.4 480.2,230.9 480.4,225.9 480.5,231.1 480.6,229.0 480.8,232.7 480.9,232.9 481.0,231.2 481.2,227.4 481.3,229.2 481.5,229.7 481.6,228.5 481.7,233.2 481.9,231.3 482.0,227.5 482.1,228.9 482.3,230.8 482.4,230.3 482.5,230.2 482.7,232.4 482.8,232.8 482.9,230.3 483.1,233.1 483.2,231.5 483.3,227.8 483.5,227.8 483.6,229.3 483.7,229.7 483.9,227.9 484.0,231.9 484.1,228.7 484.3,228.0 484.4,227.1 484.6,230.5 484.7,231.7 484.8,227.3 485.0,227.6 485.1,227.7 485.2,227.9 485.4,230.1 485.5,228.2 485.6,231.3 485.8,227.1 485.9,230.7 486.0,233.7 486.2,232.1 486.3,230.5 486.4,227.6 486.6,228.7 486.7,230.3 486.8,229.8 487.0,230.2 487.1,227.1 487.2,230.8 487.4,232.7 487.5,228.8 487.7,231.2 487.8,230.5 487.9,227.8 488.1,228.4 488.2,232.3 488.3,229.8 488.5,232.8 488.6,230.3 488.7,229.2 488.9,230.2 489.0,230.3 489.1,228.8 489.3,227.4 489.4,231.0 489.5,229.8 489.7,232.7 489.8,231.6 489.9,233.0 490.1,227.3 490.2,230.7 490.3,226.8 490.5,233.4 490.6,229.0 490.8,228.7 490.9,229.8 491.0,228.2 491.2,233.7 491.3,228.7 491.4,232.1 491.6,231.6 491.7,229.0 491.8,229.7 492.0,227.5 492.1,227.2 492.2,232.2 492.4,232.7 492.5,232.5 492.6,234.8 492.8,228.2 492.9,230.3 493.0,234.2 493.2,231.9 493.3,229.0 493.4,229.0 493.6,230.6 493.7,226.9 493.8,230.6 494.0,233.5 494.1,230.4 494.3,233.2 494.4,231.8 494.5,231.0 494.7,233.9 494.8,229.6 494.9,230.8 495.1,227.9 495.2,231.9 495.3,232.7 495.5,228.7 495.6,230.8 495.7,230.1 495.9,230.6 496.0,232.6 496.1,231.9 496.3,230.8 496.4,230.0 496.5,232.2 496.7,232.6 496.8,230.3 496.9,228.9 497.1,231.6 497.2,233.0 497.4,231.6 497.5,232.6 497.6,228.1 497.8,230.5 497.9,231.7 498.0,230.1 498.2,232.7 498.3,231.0 498.4,232.1 498.6,230.2 498.7,232.5 498.8,228.2 499.0,233.6 499.1,228.8 499.2,228.9 499.4,229.6 499.5,230.9 499.6,231.8 499.8,229.4 499.9,233.4 500.0,231.9 500.2,233.9 500.3,230.9 500.5,232.2 500.6,229.7 500.7,231.2 500.9,231.7 501.0,233.3 501.1,233.3 501.3,233.5 501.4,233.0 501.5,229.2 501.7,233.8 501.8,228.5 501.9,227.3 502.1,228.1 502.2,231.6 502.3,228.9 502.5,231.4 502.6,228.9 502.7,232.6 502.9,230.7 503.0,229.9 503.1,232.9 503.3,229.1 503.4,229.1 503.6,228.0 503.7,229.6 503.8,234.6 504.0,229.0 504.1,232.3 504.2,229.0 504.4,233.2 504.5,232.5 504.6,230.4 504.8,229.1 504.9,231.8 505.0,229.8 505.2,234.4 505.3,232.1 505.4,229.9 505.6,234.1 505.7,228.5 505.8,232.7 506.0,229.3 506.1,233.9 506.2,227.9 506.4,233.1 506.5,231.2 506.7,232.5 506.8,231.8 506.9,231.0 507.1,232.2 507.2,229.9 507.3,228.7 507.5,229.1 507.6,229.4 507.7,234.2 507.9,232.6 508.0,234.6 508.1,234.9 508.3,229.0 508.4,234.9 508.5,233.9 508.7,231.6 508.8,232.9 508.9,233.0 509.1,232.2 509.2,231.2 509.3,233.9 509.5,232.9 509.6,229.0 509.8,229.8 509.9,231.8 510.0,232.6 510.2,229.3 510.3,229.1 510.4,233.5 510.6,231.9 510.7,228.5 510.8,233.0 511.0,233.5 511.1,228.8 511.2,228.7 511.4,231.4 511.5,232.6 511.6,234.7 511.8,231.4 511.9,233.7 512.0,231.0 512.2,230.3 512.3,228.3 512.4,233.1 512.6,231.8 512.7,233.5 512.8,230.7 513.0,230.8 513.1,233.9 513.3,231.9 513.4,230.9 513.5,229.6 513.7,232.9 513.8,231.0 513.9,231.6 514.1,234.6 514.2,234.7 514.3,232.8 514.5,231.5 514.6,231.1 514.7,230.4 514.9,228.5 515.0,234.3 515.1,229.9 515.3,232.1 515.4,229.6 515.5,232.2 515.7,231.1 515.8,231.2 515.9,234.5 516.1,229.8 516.2,234.7 516.4,231.1 516.5,233.2 516.6,229.8 516.8,233.5 516.9,229.8 517.0,229.3 517.2,229.2 517.3,229.7 517.4,232.6 517.6,229.7 517.7,232.6 517.8,229.6 518.0,234.2 518.1,229.3 518.2,236.0 518.4,229.4 518.5,234.7 518.6,230.7 518.8,234.2 518.9,230.3 519.0,232.7 519.2,234.1 519.3,229.7 519.5,231.3 519.6,228.9 519.7,229.4 519.9,233.4 520.0,234.5 520.1,230.4 520.3,228.1 520.4,233.9 520.5,228.2 520.7,234.1 520.8,230.6 520.9,232.2 521.1,232.1 521.2,233.2 521.3,233.6 521.5,233.4 521.6,230.9 521.7,233.9 521.9,234.9 522.0,231.4 522.1,233.6 522.3,234.3 522.4,233.0 522.6,234.3 522.7,231.6 522.8,232.5 523.0,230.6 523.1,234.8 523.2,229.5 523.4,230.0 523.5,232.4 523.6,228.9 523.8,231.8 523.9,233.0 524.0,229.3 524.2,232.4 524.3,232.1 524.4,229.1 524.6,230.0 524.7,229.5 524.8,232.9 525.0,228.2 525.1,231.8 525.2,229.9 525.4,230.1 525.5,227.4 525.7,229.8 525.8,224.0 525.9,227.1 526.1,227.8 526.2,229.2 526.3,230.9 526.5,230.6 526.6,232.3 526.7,232.9 526.9,230.9 527.0,230.0 527.1,232.4 527.3,234.5 527.4,230.3 527.5,229.6 527.7,233.0 527.8,234.3 527.9,229.8 528.1,231.2 528.2,230.3 528.3,229.9 528.5,230.4 528.6,235.1 528.8,232.2 528.9,230.8 529.0,230.5 529.2,235.1 529.3,232.2 529.4,232.1 529.6,230.0 529.7,234.6 529.8,233.6 530.0,230.7 530.1,231.4 530.2,234.7 530.4,234.0 530.5,232.9 530.6,233.4 530.8,233.6 530.9,228.6 531.0,231.9 531.2,231.1 531.3,230.9 531.4,230.4 531.6,234.1 531.7,234.2 531.8,231.2 532.0,229.9 532.1,232.6 532.3,233.0 532.4,233.1 532.5,235.9 532.7,233.1 532.8,231.7 532.9,233.7 533.1,232.9 533.2,231.2 533.3,233.5 533.5,233.8 533.6,229.7 533.7,231.0 533.9,231.9 534.0,233.6 534.1,232.9 534.3,234.6 534.4,234.4 534.5,235.2 534.7,233.4 534.8,234.0 534.9,235.7 535.1,234.3 535.2,233.5 535.4,234.0 535.5,236.0 535.6,233.6 535.8,230.4 535.9,230.8 536.0,231.4 536.2,234.7 536.3,233.4 536.4,235.7 536.6,234.1 536.7,232.0 536.8,235.0 537.0,231.9 537.1,232.5 537.2,235.5 537.4,233.7 537.5,234.0 537.6,229.9 537.8,234.8 537.9,232.7 538.0,234.3 538.2,232.4 538.3,230.2 538.5,233.2 538.6,234.8 538.7,232.0 538.9,230.3 539.0,229.2 539.1,231.9 539.3,232.5 539.4,232.3 539.5,235.3 539.7,230.0 539.8,234.7 539.9,233.7 540.1,235.9 540.2,229.9 540.3,230.0 540.5,231.3 540.6,234.0 540.7,233.4 540.9,234.0 541.0,230.3 541.1,232.1 541.3,230.2 541.4,229.8 541.6,230.9 541.7,231.0 541.8,231.2 542.0,230.0 542.1,230.9 542.2,233.1 542.4,234.1 542.5,233.9 542.6,229.2 542.8,233.2 542.9,237.2 543.0,231.3 543.2,229.8 543.3,230.2 543.4,230.2 543.6,228.1 543.7,234.8 543.8,233.3 544.0,231.6 544.1,231.2 544.2,233.8 544.4,235.5 544.5,229.8 544.7,231.1 544.8,230.1 544.9,233.1 545.1,234.6 545.2,230.1 545.3,232.2 545.5,230.4 545.6,235.6 545.7,234.5 545.9,231.6 546.0,229.7 546.1,233.3 546.3,227.8 546.4,232.9 546.5,229.6 546.7,232.2 546.8,230.1 546.9,230.5 547.1,229.3 547.2,225.8 547.3,225.3 547.5,226.4 547.6,223.6 547.7,226.6 547.9,222.0 548.0,228.6 548.2,229.7 548.3,229.0 548.4,228.8 548.6,230.3 548.7,229.8 548.8,233.3 549.0,231.3 549.1,231.4 549.2,230.2 549.4,229.5 549.5,231.7 549.6,233.0 549.8,234.5 549.9,230.3 550.0,232.9 550.2,233.3 550.3,230.6 550.4,233.5 550.6,230.6 550.7,233.8 550.8,235.1 551.0,229.6 551.1,231.1 551.3,229.8 551.4,236.4 551.5,229.5 551.7,236.2 551.8,231.3 551.9,231.9 552.1,235.6 552.2,235.2 552.3,233.0 552.5,232.5 552.6,233.5 552.7,236.2 552.9,229.3 553.0,233.8 553.1,231.8 553.3,230.7 553.4,229.9 553.5,234.6 553.7,230.6 553.8,233.8 553.9,232.2 554.1,234.8 554.2,234.9 554.4,231.5 554.5,229.7 554.6,232.9 554.8,230.1 554.9,231.9 555.0,235.5 555.2,230.7 555.3,235.5 555.4,235.2 555.6,232.6 555.7,230.3 555.8,233.7 556.0,233.7 556.1,235.9 556.2,234.8 556.4,233.7 556.5,231.7 556.6,232.3 556.8,233.5 556.9,234.2 557.0,233.3 557.2,230.4 557.3,233.8 557.5,231.6 557.6,233.8 557.7,231.9 557.9,232.1 558.0,229.3 558.1,233.0 558.3,235.1 558.4,232.6 558.5,230.2 558.7,233.0 558.8,231.2 558.9,233.5 559.1,230.2 559.2,234.8 559.3,231.4 559.5,233.4 559.6,233.9 559.7,232.8 559.9,236.1 560.0,235.1 560.1,231.4 560.3,232.8 560.4,234.2 560.6,235.5 560.7,234.0 560.8,234.4 561.0,233.5 561.1,235.0 561.2,235.2 561.4,233.5 561.5,230.9 561.6,231.3 561.8,230.8 561.9,234.7 562.0,236.4 562.2,231.3 562.3,231.7 562.4,234.4 562.6,233.3 562.7,228.9 562.8,230.7 563.0,230.6 563.1,233.2 563.2,234.9 563.4,232.6 563.5,235.6 563.7,234.3 563.8,236.4 563.9,234.2 564.1,234.8 564.2,235.4 564.3,231.5 564.5,231.7 564.6,236.4 564.7,229.4 564.9,230.8 565.0,230.8 565.1,235.2 565.3,232.4 565.4,232.7 565.5,231.9 565.7,231.8 565.8,236.4 565.9,231.7 566.1,231.4 566.2,232.6 566.3,234.3 566.5,232.5 566.6,234.7 566.7,231.7 566.9,234.5 567.0,232.9 567.2,231.6 567.3,235.7 567.4,235.7 567.6,235.4 567.7,236.8 567.8,233.3 568.0,235.0 568.1,234.4 568.2,232.1 568.4,234.9 568.5,231.0 568.6,229.9 568.8,234.8 568.9,232.8 569.0,232.4 569.2,230.4 569.3,231.8 569.4,233.1 569.6,235.9 569.7,233.5 569.8,232.2 570.0,231.5 570.1,233.5 570.3,229.7 570.4,232.4 570.5,234.8 570.7,235.2 570.8,236.0 570.9,231.4 571.1,235.3 571.2,230.6 571.3,233.9 571.5,235.1 571.6,231.3 571.7,234.6 571.9,230.5 572.0,233.2 572.1,230.7 572.3,236.5 572.4,235.7 572.5,237.8 572.7,231.5 572.8,234.0 572.9,230.9 573.1,232.9 573.2,231.0 573.4,232.3 573.5,233.5 573.6,235.8 573.8,232.5 573.9,236.1 574.0,234.2 574.2,234.0 574.3,230.7 574.4,232.1 574.6,234.1 574.7,235.8 574.8,231.7 575.0,232.0 575.1,231.0 575.2,231.1 575.4,236.6 575.5,236.5 575.6,235.4 575.8,233.9 575.9,235.4 576.0,232.5 576.2,233.1 576.3,232.7 576.5,231.8 576.6,231.7 576.7,231.1 576.9,231.8 577.0,234.4 577.1,233.3 577.3,233.7 577.4,234.3 577.5,232.6 577.7,233.0 577.8,235.1 577.9,232.7 578.1,234.5 578.2,236.5 578.3,232.7 578.5,233.0 578.6,230.8 578.7,231.2 578.9,236.7 579.0,235.2 579.1,231.9 579.3,234.5 579.4,232.8 579.6,232.9 579.7,230.9 579.8,234.2 580.0,232.5 580.1,232.6 580.2,233.6 580.4,229.9 580.5,235.3 580.6,235.2 580.8,231.5 580.9,234.8 581.0,232.7 581.2,230.6 581.3,230.8 581.4,232.7 581.6,236.0 581.7,229.8 581.8,234.5 582.0,235.9 582.1,236.9 582.2,234.7 582.4,235.4 582.5,233.6 582.7,234.2 582.8,234.6 582.9,231.1 583.1,237.5 583.2,234.6 583.3,232.2 583.5,231.6 583.6,232.5 583.7,233.8 583.9,235.5 584.0,236.2 584.1,230.2 584.3,231.6 584.4,232.5 584.5,231.9 584.7,233.1 584.8,230.3 584.9,230.2 585.1,235.6 585.2,236.7 585.3,230.9 585.5,235.2 585.6,233.5 585.7,235.1 585.9,231.9 586.0,236.4 586.2,234.2 586.3,233.3 586.4,236.9 586.6,235.0 586.7,231.9 586.8,235.8 587.0,235.5 587.1,233.6 587.2,233.0 587.4,232.2 587.5,235.1 587.6,235.9 587.8,234.8 587.9,231.5 588.0,234.1 588.2,235.0 588.3,232.6 588.4,233.7 588.6,235.7 588.7,234.3 588.8,232.1 589.0,236.7 589.1,232.2 589.3,234.2 589.4,232.3 589.5,234.5 589.7,233.0 589.8,231.3 589.9,236.6 590.1,232.0 590.2,236.1 590.3,236.4 590.5,231.9 590.6,233.8 590.7,236.9 590.9,233.7 591.0,234.1 591.1,230.8 591.3,230.6 591.4,234.1 591.5,233.4 591.7,231.4 591.8,231.8 591.9,235.0 592.1,232.1 592.2,235.5 592.4,234.5 592.5,236.0 592.6,236.9 592.8,234.6 592.9,232.0 593.0,233.3 593.2,236.0 593.3,234.8 593.4,235.0 593.6,235.7 593.7,235.2 593.8,233.7 594.0,232.0 594.1,237.9 594.2,235.5 594.4,232.6 594.5,233.2 594.6,235.1 594.8,232.5 594.9,235.9 595.0,230.3 595.2,235.7 595.3,231.4 595.5,231.4 595.6,231.8 595.7,234.1 595.9,233.9 596.0,236.3 596.1,232.9 596.3,233.6 596.4,234.3 596.5,231.8 596.7,234.7 596.8,233.6 596.9,231.1 597.1,234.4 597.2,233.1 597.3,236.7 597.5,232.1 597.6,232.8 597.7,231.4 597.9,233.9 598.0,235.1 598.1,235.1 598.3,231.5 598.4,236.6 598.6,233.8 598.7,237.2 598.8,232.9 599.0,234.9 599.1,234.2 599.2,237.1 599.4,235.1 599.5,232.0 599.6,234.6 599.8,232.9 599.9,235.0 600.0,235.5 600.2,237.2 600.3,232.6 600.4,235.7 600.6,232.7 600.7,232.0 600.8,237.6 601.0,234.0 601.1,231.4 601.2,232.7 601.4,237.1 601.5,236.4 601.6,234.9 601.8,233.5 601.9,235.4 602.1,231.9 602.2,232.9 602.3,237.4 602.5,233.1 602.6,235.7 602.7,235.5 602.9,233.7 603.0,232.3 603.1,234.5 603.3,236.1 603.4,235.8 603.5,236.8 603.7,236.7 603.8,235.3 603.9,236.2 604.1,236.8 604.2,234.3 604.3,236.0 604.5,235.8 604.6,235.4 604.7,234.2 604.9,234.0 605.0,236.4 605.2,236.7 605.3,237.2 605.4,235.1 605.6,234.0 605.7,232.2 605.8,232.2 606.0,231.6 606.1,236.7 606.2,233.2 606.4,234.6 606.5,236.8 606.6,234.3 606.8,234.1 606.9,234.3 607.0,235.8 607.2,232.5 607.3,232.6 607.4,235.1 607.6,234.0 607.7,232.9 607.8,237.3 608.0,236.2 608.1,231.9 608.3,234.5 608.4,232.1 608.5,234.6 608.7,231.1 608.8,233.5 608.9,232.1 609.1,232.3 609.2,233.2 609.3,234.5 609.5,233.3 609.6,236.8"/>

<!-- peak labels -->
<g fill="#fff" stroke="#c3c3c3" stroke-width="1.25">
<rect x="243.6" y="21" width="53.5" height="27"/>
<rect x="300.6" y="47.4" width="58.2" height="26.7"/>
<rect x="335.1" y="78.7" width="53.4" height="26.8"/>
<rect x="308.3" y="108.2" width="53.1" height="26.9"/>
<rect x="325.4" y="136.4" width="53.4" height="27"/>
<rect x="382.9" y="17.9" width="53.8" height="27.1"/>
</g>
<g class="t" font-size="18.67" text-anchor="middle">
<text x="270.9" y="40.5">19.82</text>
<text x="327.3" y="66.8">30.74</text>
<text x="361.6" y="98.1">36.84</text>
<text x="334.8" y="127.5">31.85</text>
<text x="351.7" y="155.5">35.02</text>
<text x="409.7" y="37.3">45.73</text>
</g>

<!-- legend A -->
<path d="M458.6 23.2H494.7" stroke="#4a7ebb" stroke-width="1.8"/>
<path d="M458.6 42.2H494.7" stroke="#be4b48" stroke-width="1.8"/>
<g class="t" font-size="18.67">
<text x="498.7" y="28">Commercial Chitosan</text>
<text x="498.7" y="47">Shrimp Chitosan</text>
</g>

<text class="t" font-size="22.7" text-anchor="middle" x="343.8" y="347.9">(A)</text>

<!-- ===== chart B frame ===== -->
<rect x="4" y="365.7" width="678.6" height="341.7" fill="#fff" stroke="#dcdcdc" stroke-width="1.4"/>

<!-- axes B -->
<g stroke="#b0b0b0" stroke-width="0.9" fill="none">
<path d="M98.9 382.5V639.2M93 634.2H648.5"/>
<path d="M93 382.8H99M93 424.7H99M93 466.6H99M93 508.5H99M93 550.4H99M93 592.3H99"/>
<path d="M177.7 634.2V639.2M256.2 634.2V639.2M334.6 634.2V639.2M413.1 634.2V639.2M491.5 634.2V639.2M570 634.2V639.2M648.5 634.2V639.2"/>
</g>
<g class="c" font-size="16.3" text-anchor="end">
<text x="81.8" y="391.8" textLength="30.9" lengthAdjust="spacingAndGlyphs">120</text>
<text x="81.8" y="433.6" textLength="30.9" lengthAdjust="spacingAndGlyphs">100</text>
<text x="81.8" y="475.4" textLength="20.6" lengthAdjust="spacingAndGlyphs">80</text>
<text x="81.8" y="517.3" textLength="20.6" lengthAdjust="spacingAndGlyphs">60</text>
<text x="81.8" y="559.2" textLength="20.6" lengthAdjust="spacingAndGlyphs">40</text>
<text x="81.8" y="601.1" textLength="20.6" lengthAdjust="spacingAndGlyphs">20</text>
<text x="81.8" y="643" textLength="10.3" lengthAdjust="spacingAndGlyphs">0</text>
</g>
<g class="c" font-size="16.3" text-anchor="middle">
<text x="99.3" y="663.4" textLength="10.3" lengthAdjust="spacingAndGlyphs">0</text>
<text x="177.7" y="663.4" textLength="30.9" lengthAdjust="spacingAndGlyphs">100</text>
<text x="256.2" y="663.4" textLength="30.9" lengthAdjust="spacingAndGlyphs">200</text>
<text x="334.6" y="663.4" textLength="30.9" lengthAdjust="spacingAndGlyphs">300</text>
<text x="413.1" y="663.4" textLength="30.9" lengthAdjust="spacingAndGlyphs">400</text>
<text x="491.5" y="663.4" textLength="30.9" lengthAdjust="spacingAndGlyphs">500</text>
<text x="570" y="663.4" textLength="30.9" lengthAdjust="spacingAndGlyphs">600</text>
<text x="648.5" y="663.4" textLength="30.9" lengthAdjust="spacingAndGlyphs">700</text>
</g>
<text class="c" font-size="17.55" text-anchor="middle" x="374.5" y="686.9">Temperature (<tspan font-size="11" dy="-5.5">o</tspan><tspan dy="5.5">C)</tspan></text>
<text class="c" font-size="17.8" text-anchor="middle" transform="translate(41.8 508.3) rotate(-90)" textLength="163.03" lengthAdjust="spacingAndGlyphs">Weight residues (%)</text>

<!-- region labels -->
<g class="g" font-size="15" text-anchor="middle">
<text x="203" y="418.2">Water loss (%)</text>
<text x="357" y="410.2">Polymeric</text>
<text x="357" y="427.2">composition (%)</text>
<text x="524" y="510">Residues (%)</text>
</g>

<!-- data B -->
<g clip-path="url(#cp)" fill="none" stroke-linecap="round" stroke-linejoin="round">
<path d="M120.3 424.5C121.2 424.6 122.1 424.2 126.0 425.0C129.9 425.8 136.0 427.7 143.8 429.4C151.6 431.1 160.8 433.7 173.0 435.3C185.2 436.9 204.6 437.8 216.8 438.8C229.0 439.8 236.3 440.1 246.0 441.1C255.7 442.1 267.0 443.4 275.2 444.9C283.4 446.4 289.9 448.6 295.4 450.2C300.9 451.8 303.7 452.9 308.1 454.7C312.6 456.5 317.4 458.5 322.1 460.9C326.8 463.3 331.4 466.0 336.1 469.3C340.8 472.6 345.5 475.8 350.2 480.5C354.9 485.2 360.5 492.2 364.2 497.4C367.9 502.5 370.0 506.3 372.6 511.4C375.2 516.5 377.5 522.1 379.6 528.2C381.7 534.3 383.7 542.3 385.3 547.9C386.9 553.5 387.9 557.0 389.5 561.9C391.1 566.8 393.2 573.3 395.1 577.4C397.0 581.5 398.8 584.4 400.7 586.6C402.6 588.8 404.2 589.6 406.3 590.6C408.4 591.6 410.0 591.9 413.3 592.8C416.6 593.7 421.6 594.9 426.0 596.2C430.4 597.5 435.4 599.2 440.0 600.6C444.6 602.0 447.9 602.8 453.5 604.5C459.1 606.2 466.4 608.0 473.7 610.6C481.0 613.2 490.5 617.2 497.2 620.0C503.9 622.8 508.7 625.0 514.0 627.4C519.3 629.8 525.8 632.7 529.0 634.1C532.2 635.5 532.3 635.6 533.0 635.9" stroke="#0000cd" stroke-width="3.1"/>
</g>
<g stroke="#c6c6c6" stroke-width="3" stroke-dasharray="8.2 3.04" stroke-dashoffset="1.9" fill="none">
<path d="M295.2 379.4L295.4 634"/>
<path d="M412.9 381.3L413.4 634"/>
<path d="M642.1 378.7L642.6 634"/>
</g>
<g clip-path="url(#cp)" fill="none" stroke-linecap="round" stroke-linejoin="round">
<path d="M120.3 424.6C121.0 424.8 123.0 425.1 124.5 425.8C126.0 426.5 126.0 426.7 129.2 428.8C132.4 430.9 138.9 435.7 143.8 438.2C148.7 440.7 153.5 442.4 158.4 444.0C163.3 445.6 168.1 446.5 173.0 447.5C177.9 448.5 180.3 449.2 187.6 449.9C194.9 450.6 207.1 451.1 216.8 451.6C226.5 452.1 236.3 452.3 246.0 452.8C255.7 453.3 267.0 453.9 275.2 454.5C283.4 455.1 289.9 455.9 295.4 456.7C300.9 457.5 304.6 458.2 308.1 459.5C311.6 460.8 314.2 462.3 316.5 464.2C318.8 466.1 320.2 467.8 322.1 470.7C324.0 473.6 325.8 477.7 327.7 481.9C329.6 486.1 331.4 491.3 333.3 496.0C335.2 500.7 337.0 505.8 338.9 510.0C340.8 514.2 342.7 518.2 344.6 521.2C346.5 524.2 347.9 525.8 350.2 528.2C352.5 530.6 355.3 533.2 358.6 535.5C361.9 537.8 365.4 539.5 369.8 541.7C374.2 543.9 380.6 546.7 385.3 548.5C390.0 550.3 393.2 551.3 397.9 552.7C402.6 554.1 407.9 555.6 413.3 556.9C418.7 558.2 421.6 558.9 430.0 560.6C438.4 562.3 452.4 564.7 463.6 566.9C474.8 569.1 486.0 571.2 497.2 573.7C508.4 576.2 521.8 579.4 530.7 582.0C539.7 584.6 544.2 586.4 550.9 589.4C557.6 592.4 564.3 596.0 571.0 599.8C577.7 603.6 585.0 608.3 591.2 612.3C597.4 616.3 602.3 620.1 608.0 623.7C613.7 627.3 621.8 632.0 625.3 634.1C628.8 636.2 628.2 635.9 628.8 636.2" stroke="#ff0000" stroke-width="3.1"/>
</g>

<!-- legend B -->
<path d="M451.5 395.3H487" stroke="#0000cd" stroke-width="3" stroke-linecap="round"/>
<g class="c" font-size="17.2">
<text x="491.5" y="400.2" textLength="94.78" lengthAdjust="spacingAndGlyphs">Commercial</text>
<text x="491.5" y="422.2" textLength="66.2" lengthAdjust="spacingAndGlyphs">chitosan</text>
</g>

<text class="t" font-size="22.7" text-anchor="middle" x="343.8" y="744.3">(B)</text>
</svg>
</body>
</html>
